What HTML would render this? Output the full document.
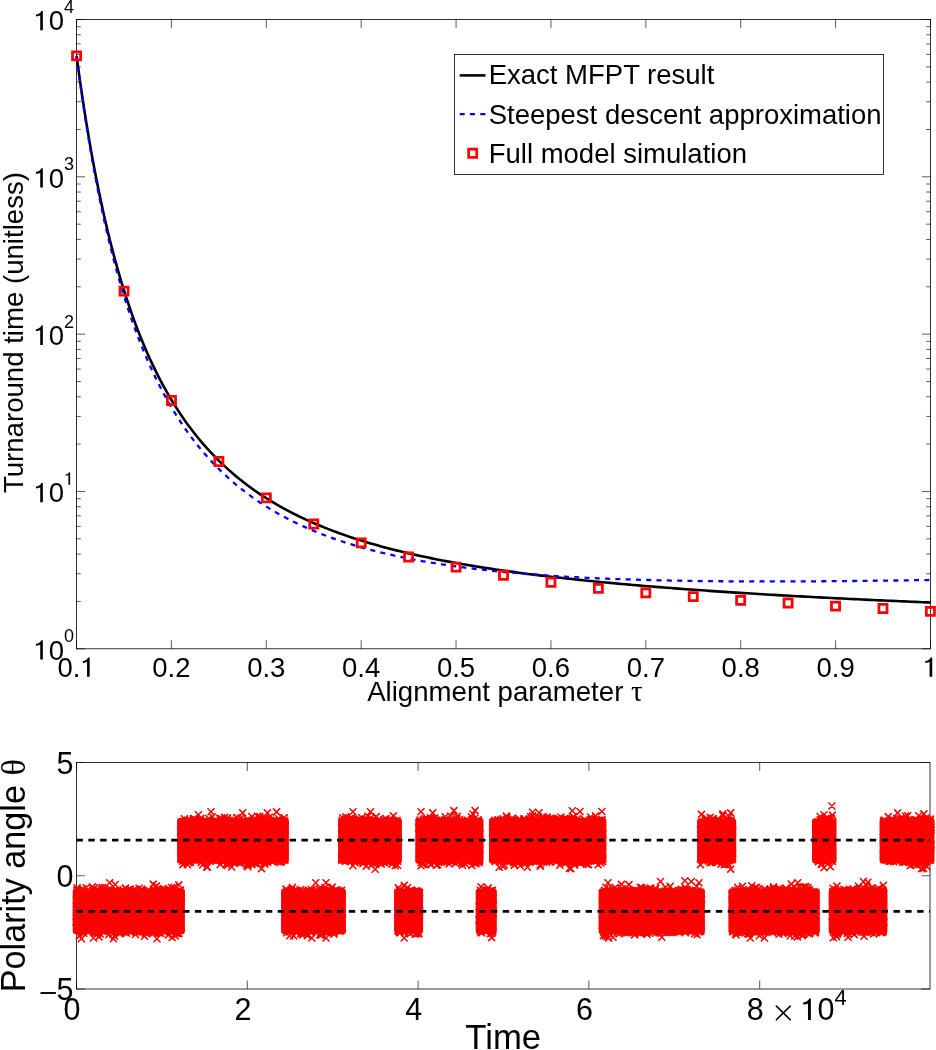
<!DOCTYPE html>
<html><head><meta charset="utf-8"><title>MFPT plot</title>
<style>html,body{margin:0;padding:0;background:#fff;overflow:hidden}svg{display:block;will-change:transform}</style>
</head><body>
<svg width="936" height="1050" viewBox="0 0 936 1050" font-family="Liberation Sans, sans-serif">
<rect width="936" height="1050" fill="#fff"/>
<path d="M76.50 648.8V640.30M76.50 19.5V28.00M171.39 648.8V640.30M171.39 19.5V28.00M266.28 648.8V640.30M266.28 19.5V28.00M361.17 648.8V640.30M361.17 19.5V28.00M456.06 648.8V640.30M456.06 19.5V28.00M550.94 648.8V640.30M550.94 19.5V28.00M645.83 648.8V640.30M645.83 19.5V28.00M740.72 648.8V640.30M740.72 19.5V28.00M835.61 648.8V640.30M835.61 19.5V28.00M930.50 648.8V640.30M930.50 19.5V28.00M76.5 648.80H85.00M930.5 648.80H922.00M76.5 601.44H80.80M930.5 601.44H926.20M76.5 573.74H80.80M930.5 573.74H926.20M76.5 554.08H80.80M930.5 554.08H926.20M76.5 538.83H80.80M930.5 538.83H926.20M76.5 526.38H80.80M930.5 526.38H926.20M76.5 515.84H80.80M930.5 515.84H926.20M76.5 506.72H80.80M930.5 506.72H926.20M76.5 498.67H80.80M930.5 498.67H926.20M76.5 491.47H85.00M930.5 491.47H922.00M76.5 444.12H80.80M930.5 444.12H926.20M76.5 416.41H80.80M930.5 416.41H926.20M76.5 396.76H80.80M930.5 396.76H926.20M76.5 381.51H80.80M930.5 381.51H926.20M76.5 369.05H80.80M930.5 369.05H926.20M76.5 358.52H80.80M930.5 358.52H926.20M76.5 349.40H80.80M930.5 349.40H926.20M76.5 341.35H80.80M930.5 341.35H926.20M76.5 334.15H85.00M930.5 334.15H922.00M76.5 286.79H80.80M930.5 286.79H926.20M76.5 259.09H80.80M930.5 259.09H926.20M76.5 239.43H80.80M930.5 239.43H926.20M76.5 224.18H80.80M930.5 224.18H926.20M76.5 211.73H80.80M930.5 211.73H926.20M76.5 201.19H80.80M930.5 201.19H926.20M76.5 192.07H80.80M930.5 192.07H926.20M76.5 184.02H80.80M930.5 184.02H926.20M76.5 176.82H85.00M930.5 176.82H922.00M76.5 129.47H80.80M930.5 129.47H926.20M76.5 101.76H80.80M930.5 101.76H926.20M76.5 82.11H80.80M930.5 82.11H926.20M76.5 66.86H80.80M930.5 66.86H926.20M76.5 54.40H80.80M930.5 54.40H926.20M76.5 43.87H80.80M930.5 43.87H926.20M76.5 34.75H80.80M930.5 34.75H926.20M76.5 26.70H80.80M930.5 26.70H926.20M76.5 19.50H85.00M930.5 19.50H922.00" stroke="#000" stroke-width="0.65" fill="none"/>
<rect x="76.5" y="19.5" width="854.00" height="629.30" fill="none" stroke="#000" stroke-width="0.8"/>
<g font-size="27.5" fill="#000"><text x="57.39" y="676.80" font-size="27.5">0.</text><path d="M0.245 0H0.34V-0.705H0.285C0.26 -0.64 0.2 -0.585 0.089 -0.574V-0.505C0.15 -0.508 0.21 -0.52 0.245 -0.545Z" transform="translate(80.32 676.80) scale(27.5)"/><text x="152.28" y="676.80" font-size="27.5">0.2</text><text x="247.17" y="676.80" font-size="27.5">0.3</text><text x="342.05" y="676.80" font-size="27.5">0.4</text><text x="436.94" y="676.80" font-size="27.5">0.5</text><text x="531.83" y="676.80" font-size="27.5">0.6</text><text x="626.72" y="676.80" font-size="27.5">0.7</text><text x="721.61" y="676.80" font-size="27.5">0.8</text><text x="816.50" y="676.80" font-size="27.5">0.9</text><path d="M0.245 0H0.34V-0.705H0.285C0.26 -0.64 0.2 -0.585 0.089 -0.574V-0.505C0.15 -0.508 0.21 -0.52 0.245 -0.545Z" transform="translate(922.86 676.80) scale(27.5)"/><path d="M0.245 0H0.34V-0.705H0.285C0.26 -0.64 0.2 -0.585 0.089 -0.574V-0.505C0.15 -0.508 0.21 -0.52 0.245 -0.545Z" transform="translate(33.50 659.60) scale(27.5)"/><text x="48.79" y="659.60" font-size="27.5">0</text><text x="64.00" y="642.20" font-size="18">0</text><path d="M0.245 0H0.34V-0.705H0.285C0.26 -0.64 0.2 -0.585 0.089 -0.574V-0.505C0.15 -0.508 0.21 -0.52 0.245 -0.545Z" transform="translate(33.50 502.27) scale(27.5)"/><text x="48.79" y="502.27" font-size="27.5">0</text><path d="M0.245 0H0.34V-0.705H0.285C0.26 -0.64 0.2 -0.585 0.089 -0.574V-0.505C0.15 -0.508 0.21 -0.52 0.245 -0.545Z" transform="translate(64.00 484.87) scale(18)"/><path d="M0.245 0H0.34V-0.705H0.285C0.26 -0.64 0.2 -0.585 0.089 -0.574V-0.505C0.15 -0.508 0.21 -0.52 0.245 -0.545Z" transform="translate(33.50 344.95) scale(27.5)"/><text x="48.79" y="344.95" font-size="27.5">0</text><text x="64.00" y="327.55" font-size="18">2</text><path d="M0.245 0H0.34V-0.705H0.285C0.26 -0.64 0.2 -0.585 0.089 -0.574V-0.505C0.15 -0.508 0.21 -0.52 0.245 -0.545Z" transform="translate(33.50 187.62) scale(27.5)"/><text x="48.79" y="187.62" font-size="27.5">0</text><text x="64.00" y="170.22" font-size="18">3</text><path d="M0.245 0H0.34V-0.705H0.285C0.26 -0.64 0.2 -0.585 0.089 -0.574V-0.505C0.15 -0.508 0.21 -0.52 0.245 -0.545Z" transform="translate(33.50 30.30) scale(27.5)"/><text x="48.79" y="30.30" font-size="27.5">0</text><text x="64.00" y="12.90" font-size="18">4</text></g>
<text x="367.2" y="701.3" font-size="27.6">Alignment parameter <tspan font-family="Liberation Serif" font-size="29">τ</tspan></text>
<text transform="translate(22.7 332.6) rotate(-90)" font-size="27.6" text-anchor="middle">Turnaround time (unitless)</text>
<path d="M76.60 55.96 L77.20 60.46 L77.79 64.90 L78.39 69.28 L78.99 73.61 L79.58 77.88 L80.18 82.10 L80.78 86.26 L81.37 90.37 L81.97 94.44 L82.57 98.45 L83.16 102.41 L83.76 106.32 L84.36 110.18 L84.95 114.00 L85.55 117.77 L86.15 121.50 L86.74 125.18 L87.34 128.82 L87.94 132.41 L88.53 135.96 L89.13 139.47 L89.73 142.94 L90.32 146.37 L90.92 149.76 L91.52 153.11 L92.11 156.42 L92.71 159.69 L93.31 162.93 L93.90 166.13 L94.50 169.29 L95.10 172.42 L95.69 175.51 L96.29 178.57 L96.89 181.60 L97.48 184.59 L98.08 187.55 L98.68 190.47 L99.27 193.37 L99.87 196.23 L100.47 199.06 L101.06 201.86 L101.66 204.63 L102.26 207.38 L102.85 210.09 L103.45 212.77 L104.05 215.43 L104.64 218.06 L105.24 220.66 L105.84 223.23 L106.43 225.78 L107.03 228.30 L107.63 230.79 L108.22 233.26 L108.82 235.70 L109.42 238.12 L110.01 240.52 L110.61 242.89 L111.21 245.24 L111.80 247.56 L112.40 249.86 L113.00 252.14 L113.59 254.39 L114.19 256.62 L114.79 258.83 L115.38 261.02 L115.98 263.19 L116.58 265.34 L117.17 267.46 L117.77 269.57 L118.37 271.66 L118.96 273.72 L119.56 275.77 L120.16 277.79 L120.75 279.80 L121.35 281.79 L121.95 283.76 L122.54 285.71 L123.14 287.64 L123.74 289.56 L124.33 291.46 L124.93 293.34 L125.52 295.20 L126.12 297.05 L126.72 298.88 L127.31 300.69 L127.91 302.48 L128.51 304.26 L129.10 306.03 L129.70 307.78 L130.30 309.51 L130.89 311.22 L131.49 312.93 L132.09 314.61 L132.68 316.28 L133.28 317.94 L133.88 319.58 L134.47 321.21 L135.07 322.83 L135.67 324.43 L136.26 326.01 L136.86 327.59 L137.46 329.15 L138.05 330.69 L138.65 332.22 L139.25 333.74 L139.84 335.25 L140.44 336.74 L141.04 338.23 L141.63 339.70 L142.23 341.15 L142.83 342.60 L143.42 344.03 L144.02 345.45 L144.62 346.86 L145.21 348.26 L145.81 349.64 L146.41 351.02 L147.00 352.38 L147.60 353.73 L148.20 355.07 L148.79 356.40 L149.39 357.72 L149.99 359.03 L150.58 360.33 L151.18 361.62 L151.78 362.90 L152.37 364.17 L152.97 365.42 L153.57 366.67 L154.16 367.91 L154.76 369.14 L155.36 370.36 L155.95 371.57 L156.55 372.77 L157.15 373.96 L157.74 375.14 L158.34 376.31 L158.94 377.47 L159.53 378.63 L160.13 379.77 L160.73 380.91 L161.32 382.04 L161.92 383.16 L162.52 384.27 L163.11 385.37 L163.71 386.47 L164.31 387.55 L164.90 388.63 L165.50 389.70 L166.10 390.76 L166.69 391.82 L167.29 392.86 L167.89 393.90 L168.48 394.93 L169.08 395.96 L169.68 396.97 L170.27 397.98 L170.87 398.98 L171.47 399.98 L175.28 406.16 L179.09 412.07 L182.91 417.72 L186.72 423.13 L190.54 428.31 L194.35 433.26 L198.16 438.02 L201.98 442.58 L205.79 446.96 L209.60 451.16 L213.42 455.21 L217.23 459.09 L221.05 462.83 L224.86 466.43 L228.67 469.90 L232.49 473.24 L236.30 476.46 L240.11 479.57 L243.93 482.56 L247.74 485.46 L251.56 488.25 L255.37 490.95 L259.18 493.57 L263.00 496.09 L266.81 498.53 L270.62 500.90 L274.44 503.19 L278.25 505.40 L282.06 507.55 L285.88 509.64 L289.69 511.66 L293.51 513.62 L297.32 515.52 L301.13 517.36 L304.95 519.15 L308.76 520.89 L312.57 522.58 L316.39 524.23 L320.20 525.82 L324.02 527.38 L327.83 528.89 L331.64 530.36 L335.46 531.79 L339.27 533.19 L343.08 534.54 L346.90 535.86 L350.71 537.15 L354.53 538.41 L358.34 539.63 L362.15 540.83 L365.97 541.99 L369.78 543.13 L373.59 544.24 L377.41 545.32 L381.22 546.38 L385.04 547.41 L388.85 548.42 L392.66 549.40 L396.48 550.37 L400.29 551.31 L404.10 552.23 L407.92 553.13 L411.73 554.01 L415.55 554.87 L419.36 555.71 L423.17 556.54 L426.99 557.35 L430.80 558.14 L434.61 558.91 L438.43 559.67 L442.24 560.42 L446.06 561.15 L449.87 561.86 L453.68 562.56 L457.50 563.25 L461.31 563.92 L465.12 564.58 L468.94 565.23 L472.75 565.87 L476.57 566.49 L480.38 567.11 L484.19 567.71 L488.01 568.30 L491.82 568.88 L495.63 569.45 L499.45 570.01 L503.26 570.56 L507.08 571.10 L510.89 571.64 L514.70 572.16 L518.52 572.67 L522.33 573.18 L526.14 573.68 L529.96 574.17 L533.77 574.65 L537.59 575.12 L541.40 575.59 L545.21 576.05 L549.03 576.50 L552.84 576.95 L556.65 577.38 L560.47 577.82 L564.28 578.24 L568.10 578.66 L571.91 579.07 L575.72 579.48 L579.54 579.88 L583.35 580.28 L587.16 580.67 L590.98 581.05 L594.79 581.43 L598.61 581.81 L602.42 582.18 L606.23 582.54 L610.05 582.90 L613.86 583.25 L617.67 583.60 L621.49 583.95 L625.30 584.29 L629.11 584.63 L632.93 584.96 L636.74 585.29 L640.56 585.61 L644.37 585.93 L648.18 586.25 L652.00 586.56 L655.81 586.87 L659.62 587.17 L663.44 587.47 L667.25 587.77 L671.07 588.06 L674.88 588.35 L678.69 588.64 L682.51 588.93 L686.32 589.21 L690.13 589.49 L693.95 589.76 L697.76 590.03 L701.58 590.30 L705.39 590.57 L709.20 590.83 L713.02 591.09 L716.83 591.35 L720.64 591.60 L724.46 591.85 L728.27 592.10 L732.09 592.35 L735.90 592.60 L739.71 592.84 L743.53 593.08 L747.34 593.32 L751.15 593.55 L754.97 593.78 L758.78 594.01 L762.60 594.24 L766.41 594.47 L770.22 594.69 L774.04 594.91 L777.85 595.13 L781.66 595.35 L785.48 595.57 L789.29 595.78 L793.11 595.99 L796.92 596.20 L800.73 596.41 L804.55 596.61 L808.36 596.82 L812.17 597.02 L815.99 597.22 L819.80 597.42 L823.62 597.62 L827.43 597.81 L831.24 598.00 L835.06 598.20 L838.87 598.39 L842.68 598.57 L846.50 598.76 L850.31 598.95 L854.13 599.13 L857.94 599.31 L861.75 599.49 L865.57 599.67 L869.38 599.85 L873.19 600.02 L877.01 600.20 L880.82 600.37 L884.64 600.54 L888.45 600.71 L892.26 600.88 L896.08 601.05 L899.89 601.22 L903.70 601.38 L907.52 601.55 L911.33 601.71 L915.15 601.87 L918.96 602.03 L922.77 602.19 L926.59 602.34 L930.40 602.50" stroke="#000" stroke-width="2.6" fill="none" stroke-linejoin="round"/>
<path d="M76.60 55.99 L77.20 60.62 L77.79 65.19 L78.39 69.70 L78.99 74.15 L79.58 78.54 L80.18 82.87 L80.78 87.15 L81.37 91.38 L81.97 95.55 L82.57 99.66 L83.16 103.73 L83.76 107.74 L84.36 111.71 L84.95 115.63 L85.55 119.49 L86.15 123.31 L86.74 127.09 L87.34 130.82 L87.94 134.50 L88.53 138.14 L89.13 141.73 L89.73 145.29 L90.32 148.80 L90.92 152.27 L91.52 155.69 L92.11 159.08 L92.71 162.43 L93.31 165.74 L93.90 169.02 L94.50 172.25 L95.10 175.45 L95.69 178.61 L96.29 181.74 L96.89 184.83 L97.48 187.89 L98.08 190.91 L98.68 193.90 L99.27 196.86 L99.87 199.79 L100.47 202.68 L101.06 205.54 L101.66 208.37 L102.26 211.17 L102.85 213.94 L103.45 216.68 L104.05 219.39 L104.64 222.08 L105.24 224.73 L105.84 227.36 L106.43 229.96 L107.03 232.53 L107.63 235.07 L108.22 237.59 L108.82 240.09 L109.42 242.56 L110.01 245.00 L110.61 247.42 L111.21 249.81 L111.80 252.18 L112.40 254.53 L113.00 256.85 L113.59 259.15 L114.19 261.42 L114.79 263.68 L115.38 265.91 L115.98 268.12 L116.58 270.31 L117.17 272.48 L117.77 274.62 L118.37 276.75 L118.96 278.85 L119.56 280.94 L120.16 283.00 L120.75 285.05 L121.35 287.08 L121.95 289.08 L122.54 291.07 L123.14 293.04 L123.74 294.99 L124.33 296.93 L124.93 298.84 L125.52 300.74 L126.12 302.62 L126.72 304.48 L127.31 306.33 L127.91 308.16 L128.51 309.97 L129.10 311.77 L129.70 313.55 L130.30 315.32 L130.89 317.06 L131.49 318.80 L132.09 320.52 L132.68 322.22 L133.28 323.91 L133.88 325.58 L134.47 327.24 L135.07 328.88 L135.67 330.51 L136.26 332.13 L136.86 333.73 L137.46 335.31 L138.05 336.89 L138.65 338.45 L139.25 340.00 L139.84 341.53 L140.44 343.05 L141.04 344.56 L141.63 346.06 L142.23 347.54 L142.83 349.01 L143.42 350.47 L144.02 351.92 L144.62 353.35 L145.21 354.77 L145.81 356.18 L146.41 357.58 L147.00 358.97 L147.60 360.35 L148.20 361.71 L148.79 363.07 L149.39 364.41 L149.99 365.74 L150.58 367.06 L151.18 368.37 L151.78 369.68 L152.37 370.97 L152.97 372.25 L153.57 373.52 L154.16 374.78 L154.76 376.03 L155.36 377.27 L155.95 378.50 L156.55 379.72 L157.15 380.93 L157.74 382.13 L158.34 383.32 L158.94 384.51 L159.53 385.68 L160.13 386.85 L160.73 388.00 L161.32 389.15 L161.92 390.29 L162.52 391.42 L163.11 392.54 L163.71 393.66 L164.31 394.76 L164.90 395.86 L165.50 396.94 L166.10 398.03 L166.69 399.10 L167.29 400.16 L167.89 401.22 L168.48 402.27 L169.08 403.31 L169.68 404.34 L170.27 405.37 L170.87 406.38 L171.47 407.39 L175.28 413.68 L179.09 419.69 L182.91 425.43 L186.72 430.92 L190.54 436.17 L194.35 441.20 L198.16 446.03 L201.98 450.65 L205.79 455.08 L209.60 459.34 L213.42 463.43 L217.23 467.35 L221.05 471.13 L224.86 474.76 L228.67 478.25 L232.49 481.61 L236.30 484.85 L240.11 487.97 L243.93 490.97 L247.74 493.87 L251.56 496.66 L255.37 499.36 L259.18 501.96 L263.00 504.47 L266.81 506.90 L270.62 509.24 L274.44 511.50 L278.25 513.69 L282.06 515.80 L285.88 517.85 L289.69 519.83 L293.51 521.74 L297.32 523.59 L301.13 525.39 L304.95 527.12 L308.76 528.80 L312.57 530.43 L316.39 532.01 L320.20 533.53 L324.02 535.02 L327.83 536.45 L331.64 537.84 L335.46 539.19 L339.27 540.50 L343.08 541.77 L346.90 543.00 L350.71 544.19 L354.53 545.35 L358.34 546.47 L362.15 547.57 L365.97 548.62 L369.78 549.65 L373.59 550.65 L377.41 551.62 L381.22 552.56 L385.04 553.47 L388.85 554.36 L392.66 555.22 L396.48 556.06 L400.29 556.87 L404.10 557.66 L407.92 558.43 L411.73 559.17 L415.55 559.90 L419.36 560.60 L423.17 561.29 L426.99 561.95 L430.80 562.59 L434.61 563.22 L438.43 563.83 L442.24 564.42 L446.06 565.00 L449.87 565.56 L453.68 566.10 L457.50 566.63 L461.31 567.14 L465.12 567.64 L468.94 568.12 L472.75 568.59 L476.57 569.05 L480.38 569.49 L484.19 569.93 L488.01 570.34 L491.82 570.75 L495.63 571.15 L499.45 571.53 L503.26 571.90 L507.08 572.26 L510.89 572.62 L514.70 572.96 L518.52 573.29 L522.33 573.61 L526.14 573.92 L529.96 574.22 L533.77 574.52 L537.59 574.80 L541.40 575.08 L545.21 575.34 L549.03 575.60 L552.84 575.85 L556.65 576.10 L560.47 576.33 L564.28 576.56 L568.10 576.78 L571.91 577.00 L575.72 577.20 L579.54 577.40 L583.35 577.60 L587.16 577.78 L590.98 577.97 L594.79 578.14 L598.61 578.31 L602.42 578.47 L606.23 578.63 L610.05 578.78 L613.86 578.93 L617.67 579.07 L621.49 579.20 L625.30 579.34 L629.11 579.46 L632.93 579.58 L636.74 579.70 L640.56 579.81 L644.37 579.92 L648.18 580.02 L652.00 580.12 L655.81 580.21 L659.62 580.30 L663.44 580.38 L667.25 580.47 L671.07 580.54 L674.88 580.62 L678.69 580.69 L682.51 580.75 L686.32 580.82 L690.13 580.88 L693.95 580.93 L697.76 580.98 L701.58 581.03 L705.39 581.08 L709.20 581.12 L713.02 581.16 L716.83 581.20 L720.64 581.23 L724.46 581.26 L728.27 581.29 L732.09 581.32 L735.90 581.34 L739.71 581.36 L743.53 581.38 L747.34 581.39 L751.15 581.41 L754.97 581.42 L758.78 581.42 L762.60 581.43 L766.41 581.43 L770.22 581.43 L774.04 581.43 L777.85 581.43 L781.66 581.42 L785.48 581.42 L789.29 581.41 L793.11 581.40 L796.92 581.38 L800.73 581.37 L804.55 581.35 L808.36 581.33 L812.17 581.31 L815.99 581.29 L819.80 581.26 L823.62 581.24 L827.43 581.21 L831.24 581.18 L835.06 581.15 L838.87 581.12 L842.68 581.09 L846.50 581.05 L850.31 581.02 L854.13 580.98 L857.94 580.94 L861.75 580.90 L865.57 580.86 L869.38 580.81 L873.19 580.77 L877.01 580.72 L880.82 580.68 L884.64 580.63 L888.45 580.58 L892.26 580.53 L896.08 580.48 L899.89 580.43 L903.70 580.37 L907.52 580.32 L911.33 580.26 L915.15 580.21 L918.96 580.15 L922.77 580.09 L926.59 580.03 L930.40 579.97" stroke="#0000ff" stroke-width="2.3" fill="none" stroke-dasharray="5.0 5.3"/>
<path d="M72.55 51.85h8.1v8.1h-8.1zM119.98 287.05h8.1v8.1h-8.1zM167.42 396.45h8.1v8.1h-8.1zM214.85 457.45h8.1v8.1h-8.1zM262.28 493.85h8.1v8.1h-8.1zM309.72 519.95h8.1v8.1h-8.1zM357.15 538.75h8.1v8.1h-8.1zM404.58 552.95h8.1v8.1h-8.1zM452.02 563.05h8.1v8.1h-8.1zM499.45 571.15h8.1v8.1h-8.1zM546.88 578.15h8.1v8.1h-8.1zM594.32 584.25h8.1v8.1h-8.1zM641.75 588.75h8.1v8.1h-8.1zM689.18 592.55h8.1v8.1h-8.1zM736.62 596.35h8.1v8.1h-8.1zM784.05 598.95h8.1v8.1h-8.1zM831.48 602.05h8.1v8.1h-8.1zM878.92 604.45h8.1v8.1h-8.1zM926.35 607.25h8.1v8.1h-8.1z" stroke="#ff0000" stroke-width="2.75" fill="none"/>
<rect x="454.5" y="54.5" width="429.0" height="120.0" fill="#fff" stroke="#000" stroke-width="0.8"/>
<path d="M459.7 75.39999999999999H485.5" stroke="#000" stroke-width="2.6"/>
<path d="M459.7 114.1H485.5" stroke="#0000ff" stroke-width="2.3" stroke-dasharray="5.0 5.3"/>
<path d="M468.65 149.15h8.1v8.1h-8.1z" stroke="#ff0000" stroke-width="2.75" fill="none"/>
<g font-size="27.5">
<text x="488.7" y="84.4">Exact MFPT result</text>
<text x="488.7" y="123.7">Steepest descent approximation</text>
<text x="488.7" y="162.8">Full model simulation</text>
</g>
<path d="M76.50 989.0V980.50M76.50 762.5V771.00M247.30 989.0V980.50M247.30 762.5V771.00M418.10 989.0V980.50M418.10 762.5V771.00M588.90 989.0V980.50M588.90 762.5V771.00M759.70 989.0V980.50M759.70 762.5V771.00M76.5 989.00H85.00M930.0 989.00H921.50M76.5 875.75H85.00M930.0 875.75H921.50M76.5 762.50H85.00M930.0 762.50H921.50" stroke="#000" stroke-width="0.65" fill="none"/>
<rect x="76.5" y="762.5" width="853.50" height="226.50" fill="none" stroke="#000" stroke-width="0.8"/>
<g><rect x="72.70" y="888.20" width="112.20" height="46.00" rx="3" fill="#ff0000"/><rect x="177.10" y="817.80" width="111.80" height="46.00" rx="3" fill="#ff0000"/><rect x="281.10" y="888.20" width="64.80" height="46.00" rx="3" fill="#ff0000"/><rect x="338.10" y="817.80" width="63.80" height="46.00" rx="3" fill="#ff0000"/><rect x="394.10" y="888.60" width="29.00" height="45.20" rx="3" fill="#ff0000"/><rect x="415.30" y="817.80" width="68.20" height="46.00" rx="3" fill="#ff0000"/><rect x="475.70" y="888.60" width="21.10" height="45.20" rx="3" fill="#ff0000"/><rect x="489.00" y="817.80" width="117.40" height="46.00" rx="3" fill="#ff0000"/><rect x="598.60" y="888.20" width="106.30" height="46.00" rx="3" fill="#ff0000"/><rect x="697.10" y="818.20" width="39.10" height="45.20" rx="3" fill="#ff0000"/><rect x="728.40" y="888.20" width="91.40" height="46.00" rx="3" fill="#ff0000"/><rect x="812.00" y="818.20" width="24.50" height="45.20" rx="3" fill="#ff0000"/><rect x="828.70" y="888.20" width="58.70" height="46.00" rx="3" fill="#ff0000"/><rect x="879.60" y="817.80" width="54.90" height="46.00" rx="3" fill="#ff0000"/></g>
<path d="M138.4 887.4l7.0 7.0m0 -7.0l-7.0 7.0M166.8 886.5l7.0 7.0m0 -7.0l-7.0 7.0M154.1 885.3l7.0 7.0m0 -7.0l-7.0 7.0M96.6 884.3l7.0 7.0m0 -7.0l-7.0 7.0M104.4 886.7l7.0 7.0m0 -7.0l-7.0 7.0M164.3 885.9l7.0 7.0m0 -7.0l-7.0 7.0M73.6 886.6l7.0 7.0m0 -7.0l-7.0 7.0M158.8 886.4l7.0 7.0m0 -7.0l-7.0 7.0M156.3 887.3l7.0 7.0m0 -7.0l-7.0 7.0M122.0 884.5l7.0 7.0m0 -7.0l-7.0 7.0M104.7 886.4l7.0 7.0m0 -7.0l-7.0 7.0M102.2 886.4l7.0 7.0m0 -7.0l-7.0 7.0M99.7 887.5l7.0 7.0m0 -7.0l-7.0 7.0M119.6 886.2l7.0 7.0m0 -7.0l-7.0 7.0M125.8 886.2l7.0 7.0m0 -7.0l-7.0 7.0M130.9 886.2l7.0 7.0m0 -7.0l-7.0 7.0M177.0 886.8l7.0 7.0m0 -7.0l-7.0 7.0M155.9 885.9l7.0 7.0m0 -7.0l-7.0 7.0M138.1 885.6l7.0 7.0m0 -7.0l-7.0 7.0M176.3 886.7l7.0 7.0m0 -7.0l-7.0 7.0M95.6 887.1l7.0 7.0m0 -7.0l-7.0 7.0M89.8 885.5l7.0 7.0m0 -7.0l-7.0 7.0M137.0 886.7l7.0 7.0m0 -7.0l-7.0 7.0M77.7 886.6l7.0 7.0m0 -7.0l-7.0 7.0M76.8 887.4l7.0 7.0m0 -7.0l-7.0 7.0M126.9 887.2l7.0 7.0m0 -7.0l-7.0 7.0M121.8 885.0l7.0 7.0m0 -7.0l-7.0 7.0M168.9 886.6l7.0 7.0m0 -7.0l-7.0 7.0M138.8 887.5l7.0 7.0m0 -7.0l-7.0 7.0M126.8 885.9l7.0 7.0m0 -7.0l-7.0 7.0M125.0 886.9l7.0 7.0m0 -7.0l-7.0 7.0M98.9 884.0l7.0 7.0m0 -7.0l-7.0 7.0M74.3 886.5l7.0 7.0m0 -7.0l-7.0 7.0M93.2 886.3l7.0 7.0m0 -7.0l-7.0 7.0M145.3 887.0l7.0 7.0m0 -7.0l-7.0 7.0M94.0 887.5l7.0 7.0m0 -7.0l-7.0 7.0M111.7 881.0l7.0 7.0m0 -7.0l-7.0 7.0M73.5 886.9l7.0 7.0m0 -7.0l-7.0 7.0M159.8 885.0l7.0 7.0m0 -7.0l-7.0 7.0M89.2 887.3l7.0 7.0m0 -7.0l-7.0 7.0M101.0 884.2l7.0 7.0m0 -7.0l-7.0 7.0M165.0 887.5l7.0 7.0m0 -7.0l-7.0 7.0M126.3 886.5l7.0 7.0m0 -7.0l-7.0 7.0M161.5 887.4l7.0 7.0m0 -7.0l-7.0 7.0M139.9 887.3l7.0 7.0m0 -7.0l-7.0 7.0M150.5 885.6l7.0 7.0m0 -7.0l-7.0 7.0M82.7 884.3l7.0 7.0m0 -7.0l-7.0 7.0M129.6 886.7l7.0 7.0m0 -7.0l-7.0 7.0M126.1 885.8l7.0 7.0m0 -7.0l-7.0 7.0M164.1 886.2l7.0 7.0m0 -7.0l-7.0 7.0M110.8 886.9l7.0 7.0m0 -7.0l-7.0 7.0M135.6 884.8l7.0 7.0m0 -7.0l-7.0 7.0M79.3 885.3l7.0 7.0m0 -7.0l-7.0 7.0M113.6 887.1l7.0 7.0m0 -7.0l-7.0 7.0M106.8 886.6l7.0 7.0m0 -7.0l-7.0 7.0M153.0 882.5l7.0 7.0m0 -7.0l-7.0 7.0M168.0 884.0l7.0 7.0m0 -7.0l-7.0 7.0M88.9 883.4l7.0 7.0m0 -7.0l-7.0 7.0M170.5 883.8l7.0 7.0m0 -7.0l-7.0 7.0M73.6 884.4l7.0 7.0m0 -7.0l-7.0 7.0M151.7 883.2l7.0 7.0m0 -7.0l-7.0 7.0M155.9 929.4l7.0 7.0m0 -7.0l-7.0 7.0M126.7 928.6l7.0 7.0m0 -7.0l-7.0 7.0M148.9 928.2l7.0 7.0m0 -7.0l-7.0 7.0M96.7 930.5l7.0 7.0m0 -7.0l-7.0 7.0M93.8 929.5l7.0 7.0m0 -7.0l-7.0 7.0M111.0 932.6l7.0 7.0m0 -7.0l-7.0 7.0M91.8 928.5l7.0 7.0m0 -7.0l-7.0 7.0M109.2 930.5l7.0 7.0m0 -7.0l-7.0 7.0M172.1 928.0l7.0 7.0m0 -7.0l-7.0 7.0M133.0 928.0l7.0 7.0m0 -7.0l-7.0 7.0M108.6 927.9l7.0 7.0m0 -7.0l-7.0 7.0M101.4 928.0l7.0 7.0m0 -7.0l-7.0 7.0M172.5 928.4l7.0 7.0m0 -7.0l-7.0 7.0M119.5 928.0l7.0 7.0m0 -7.0l-7.0 7.0M175.5 929.8l7.0 7.0m0 -7.0l-7.0 7.0M126.9 927.9l7.0 7.0m0 -7.0l-7.0 7.0M127.5 928.5l7.0 7.0m0 -7.0l-7.0 7.0M166.7 928.2l7.0 7.0m0 -7.0l-7.0 7.0M150.6 928.9l7.0 7.0m0 -7.0l-7.0 7.0M133.7 927.9l7.0 7.0m0 -7.0l-7.0 7.0M117.6 928.6l7.0 7.0m0 -7.0l-7.0 7.0M164.8 931.4l7.0 7.0m0 -7.0l-7.0 7.0M116.1 929.2l7.0 7.0m0 -7.0l-7.0 7.0M169.4 928.3l7.0 7.0m0 -7.0l-7.0 7.0M80.3 929.8l7.0 7.0m0 -7.0l-7.0 7.0M118.0 928.7l7.0 7.0m0 -7.0l-7.0 7.0M127.3 928.1l7.0 7.0m0 -7.0l-7.0 7.0M172.4 930.0l7.0 7.0m0 -7.0l-7.0 7.0M99.3 928.0l7.0 7.0m0 -7.0l-7.0 7.0M157.3 929.8l7.0 7.0m0 -7.0l-7.0 7.0M143.7 930.3l7.0 7.0m0 -7.0l-7.0 7.0M148.0 929.1l7.0 7.0m0 -7.0l-7.0 7.0M138.8 928.3l7.0 7.0m0 -7.0l-7.0 7.0M174.5 930.3l7.0 7.0m0 -7.0l-7.0 7.0M107.8 928.0l7.0 7.0m0 -7.0l-7.0 7.0M114.7 928.4l7.0 7.0m0 -7.0l-7.0 7.0M94.3 929.5l7.0 7.0m0 -7.0l-7.0 7.0M78.4 929.1l7.0 7.0m0 -7.0l-7.0 7.0M95.3 928.9l7.0 7.0m0 -7.0l-7.0 7.0M168.7 934.0l7.0 7.0m0 -7.0l-7.0 7.0M160.8 928.8l7.0 7.0m0 -7.0l-7.0 7.0M84.8 928.2l7.0 7.0m0 -7.0l-7.0 7.0M136.1 928.7l7.0 7.0m0 -7.0l-7.0 7.0M123.1 929.7l7.0 7.0m0 -7.0l-7.0 7.0M135.2 928.1l7.0 7.0m0 -7.0l-7.0 7.0M141.9 929.7l7.0 7.0m0 -7.0l-7.0 7.0M105.1 931.3l7.0 7.0m0 -7.0l-7.0 7.0M173.5 928.9l7.0 7.0m0 -7.0l-7.0 7.0M121.7 928.0l7.0 7.0m0 -7.0l-7.0 7.0M138.7 928.2l7.0 7.0m0 -7.0l-7.0 7.0M139.4 928.4l7.0 7.0m0 -7.0l-7.0 7.0M92.3 928.8l7.0 7.0m0 -7.0l-7.0 7.0M79.6 928.5l7.0 7.0m0 -7.0l-7.0 7.0M116.1 930.2l7.0 7.0m0 -7.0l-7.0 7.0M152.9 929.1l7.0 7.0m0 -7.0l-7.0 7.0M90.0 934.5l7.0 7.0m0 -7.0l-7.0 7.0M75.9 932.4l7.0 7.0m0 -7.0l-7.0 7.0M141.0 932.8l7.0 7.0m0 -7.0l-7.0 7.0M95.5 933.4l7.0 7.0m0 -7.0l-7.0 7.0M132.0 931.0l7.0 7.0m0 -7.0l-7.0 7.0M171.7 932.4l7.0 7.0m0 -7.0l-7.0 7.0M72.7 914.5l7.0 7.0m0 -7.0l-7.0 7.0M73.4 902.5l7.0 7.0m0 -7.0l-7.0 7.0M73.0 909.4l7.0 7.0m0 -7.0l-7.0 7.0M72.8 897.1l7.0 7.0m0 -7.0l-7.0 7.0M72.9 905.9l7.0 7.0m0 -7.0l-7.0 7.0M72.7 918.3l7.0 7.0m0 -7.0l-7.0 7.0M73.2 899.3l7.0 7.0m0 -7.0l-7.0 7.0M72.7 918.8l7.0 7.0m0 -7.0l-7.0 7.0M177.1 892.3l7.0 7.0m0 -7.0l-7.0 7.0M177.1 890.1l7.0 7.0m0 -7.0l-7.0 7.0M177.9 898.0l7.0 7.0m0 -7.0l-7.0 7.0M177.3 921.7l7.0 7.0m0 -7.0l-7.0 7.0M177.6 894.6l7.0 7.0m0 -7.0l-7.0 7.0M177.4 923.8l7.0 7.0m0 -7.0l-7.0 7.0M177.4 916.6l7.0 7.0m0 -7.0l-7.0 7.0M177.1 917.2l7.0 7.0m0 -7.0l-7.0 7.0M258.3 816.5l7.0 7.0m0 -7.0l-7.0 7.0M263.4 815.1l7.0 7.0m0 -7.0l-7.0 7.0M247.6 817.0l7.0 7.0m0 -7.0l-7.0 7.0M216.1 814.9l7.0 7.0m0 -7.0l-7.0 7.0M184.2 816.8l7.0 7.0m0 -7.0l-7.0 7.0M231.5 816.7l7.0 7.0m0 -7.0l-7.0 7.0M256.3 817.1l7.0 7.0m0 -7.0l-7.0 7.0M197.3 814.8l7.0 7.0m0 -7.0l-7.0 7.0M205.2 815.0l7.0 7.0m0 -7.0l-7.0 7.0M233.3 814.4l7.0 7.0m0 -7.0l-7.0 7.0M255.3 816.7l7.0 7.0m0 -7.0l-7.0 7.0M270.7 816.9l7.0 7.0m0 -7.0l-7.0 7.0M190.6 815.0l7.0 7.0m0 -7.0l-7.0 7.0M196.7 816.5l7.0 7.0m0 -7.0l-7.0 7.0M260.7 815.1l7.0 7.0m0 -7.0l-7.0 7.0M244.5 816.5l7.0 7.0m0 -7.0l-7.0 7.0M252.5 816.5l7.0 7.0m0 -7.0l-7.0 7.0M281.2 817.1l7.0 7.0m0 -7.0l-7.0 7.0M275.2 815.2l7.0 7.0m0 -7.0l-7.0 7.0M265.2 816.6l7.0 7.0m0 -7.0l-7.0 7.0M258.3 817.0l7.0 7.0m0 -7.0l-7.0 7.0M218.6 815.7l7.0 7.0m0 -7.0l-7.0 7.0M244.2 816.3l7.0 7.0m0 -7.0l-7.0 7.0M196.7 816.6l7.0 7.0m0 -7.0l-7.0 7.0M256.5 814.9l7.0 7.0m0 -7.0l-7.0 7.0M256.3 816.6l7.0 7.0m0 -7.0l-7.0 7.0M252.5 816.0l7.0 7.0m0 -7.0l-7.0 7.0M223.8 816.7l7.0 7.0m0 -7.0l-7.0 7.0M216.8 815.5l7.0 7.0m0 -7.0l-7.0 7.0M221.2 813.9l7.0 7.0m0 -7.0l-7.0 7.0M181.0 815.3l7.0 7.0m0 -7.0l-7.0 7.0M265.3 816.5l7.0 7.0m0 -7.0l-7.0 7.0M233.9 814.2l7.0 7.0m0 -7.0l-7.0 7.0M217.8 815.9l7.0 7.0m0 -7.0l-7.0 7.0M234.5 816.9l7.0 7.0m0 -7.0l-7.0 7.0M252.6 816.8l7.0 7.0m0 -7.0l-7.0 7.0M217.2 816.9l7.0 7.0m0 -7.0l-7.0 7.0M263.9 815.1l7.0 7.0m0 -7.0l-7.0 7.0M273.1 808.4l7.0 7.0m0 -7.0l-7.0 7.0M217.8 815.0l7.0 7.0m0 -7.0l-7.0 7.0M191.8 817.0l7.0 7.0m0 -7.0l-7.0 7.0M256.6 816.1l7.0 7.0m0 -7.0l-7.0 7.0M280.8 814.3l7.0 7.0m0 -7.0l-7.0 7.0M192.9 816.3l7.0 7.0m0 -7.0l-7.0 7.0M251.6 817.1l7.0 7.0m0 -7.0l-7.0 7.0M263.3 816.7l7.0 7.0m0 -7.0l-7.0 7.0M273.2 816.7l7.0 7.0m0 -7.0l-7.0 7.0M190.3 816.9l7.0 7.0m0 -7.0l-7.0 7.0M187.0 816.7l7.0 7.0m0 -7.0l-7.0 7.0M280.2 814.6l7.0 7.0m0 -7.0l-7.0 7.0M189.6 815.6l7.0 7.0m0 -7.0l-7.0 7.0M195.9 816.3l7.0 7.0m0 -7.0l-7.0 7.0M237.3 814.6l7.0 7.0m0 -7.0l-7.0 7.0M223.9 814.4l7.0 7.0m0 -7.0l-7.0 7.0M255.5 816.4l7.0 7.0m0 -7.0l-7.0 7.0M265.9 813.8l7.0 7.0m0 -7.0l-7.0 7.0M248.4 813.1l7.0 7.0m0 -7.0l-7.0 7.0M254.0 812.7l7.0 7.0m0 -7.0l-7.0 7.0M208.9 813.2l7.0 7.0m0 -7.0l-7.0 7.0M194.9 811.3l7.0 7.0m0 -7.0l-7.0 7.0M256.2 813.1l7.0 7.0m0 -7.0l-7.0 7.0M231.0 859.0l7.0 7.0m0 -7.0l-7.0 7.0M187.0 858.5l7.0 7.0m0 -7.0l-7.0 7.0M277.9 858.3l7.0 7.0m0 -7.0l-7.0 7.0M237.3 859.8l7.0 7.0m0 -7.0l-7.0 7.0M261.1 857.8l7.0 7.0m0 -7.0l-7.0 7.0M206.8 857.6l7.0 7.0m0 -7.0l-7.0 7.0M260.9 858.9l7.0 7.0m0 -7.0l-7.0 7.0M250.6 858.5l7.0 7.0m0 -7.0l-7.0 7.0M244.4 863.2l7.0 7.0m0 -7.0l-7.0 7.0M276.4 858.7l7.0 7.0m0 -7.0l-7.0 7.0M222.6 860.2l7.0 7.0m0 -7.0l-7.0 7.0M220.7 858.3l7.0 7.0m0 -7.0l-7.0 7.0M249.5 857.6l7.0 7.0m0 -7.0l-7.0 7.0M264.3 858.8l7.0 7.0m0 -7.0l-7.0 7.0M212.3 857.8l7.0 7.0m0 -7.0l-7.0 7.0M247.1 858.1l7.0 7.0m0 -7.0l-7.0 7.0M199.2 861.4l7.0 7.0m0 -7.0l-7.0 7.0M234.9 858.2l7.0 7.0m0 -7.0l-7.0 7.0M257.5 858.2l7.0 7.0m0 -7.0l-7.0 7.0M184.3 858.2l7.0 7.0m0 -7.0l-7.0 7.0M253.2 860.4l7.0 7.0m0 -7.0l-7.0 7.0M179.1 857.7l7.0 7.0m0 -7.0l-7.0 7.0M277.2 858.2l7.0 7.0m0 -7.0l-7.0 7.0M226.2 857.8l7.0 7.0m0 -7.0l-7.0 7.0M220.0 858.0l7.0 7.0m0 -7.0l-7.0 7.0M252.4 858.9l7.0 7.0m0 -7.0l-7.0 7.0M231.9 858.2l7.0 7.0m0 -7.0l-7.0 7.0M253.5 860.0l7.0 7.0m0 -7.0l-7.0 7.0M186.3 859.0l7.0 7.0m0 -7.0l-7.0 7.0M236.0 858.0l7.0 7.0m0 -7.0l-7.0 7.0M235.5 858.2l7.0 7.0m0 -7.0l-7.0 7.0M274.4 858.1l7.0 7.0m0 -7.0l-7.0 7.0M181.6 858.5l7.0 7.0m0 -7.0l-7.0 7.0M224.6 859.4l7.0 7.0m0 -7.0l-7.0 7.0M243.1 862.0l7.0 7.0m0 -7.0l-7.0 7.0M234.8 857.7l7.0 7.0m0 -7.0l-7.0 7.0M185.2 859.2l7.0 7.0m0 -7.0l-7.0 7.0M239.2 857.8l7.0 7.0m0 -7.0l-7.0 7.0M200.6 859.8l7.0 7.0m0 -7.0l-7.0 7.0M197.8 858.9l7.0 7.0m0 -7.0l-7.0 7.0M268.9 858.1l7.0 7.0m0 -7.0l-7.0 7.0M198.1 858.6l7.0 7.0m0 -7.0l-7.0 7.0M224.7 859.9l7.0 7.0m0 -7.0l-7.0 7.0M255.5 858.0l7.0 7.0m0 -7.0l-7.0 7.0M251.1 859.9l7.0 7.0m0 -7.0l-7.0 7.0M235.1 858.6l7.0 7.0m0 -7.0l-7.0 7.0M261.4 860.6l7.0 7.0m0 -7.0l-7.0 7.0M225.9 859.5l7.0 7.0m0 -7.0l-7.0 7.0M242.0 858.7l7.0 7.0m0 -7.0l-7.0 7.0M262.7 858.3l7.0 7.0m0 -7.0l-7.0 7.0M248.0 859.5l7.0 7.0m0 -7.0l-7.0 7.0M244.3 859.7l7.0 7.0m0 -7.0l-7.0 7.0M219.7 857.7l7.0 7.0m0 -7.0l-7.0 7.0M235.6 859.5l7.0 7.0m0 -7.0l-7.0 7.0M218.7 858.0l7.0 7.0m0 -7.0l-7.0 7.0M223.8 861.9l7.0 7.0m0 -7.0l-7.0 7.0M184.0 861.2l7.0 7.0m0 -7.0l-7.0 7.0M248.5 861.1l7.0 7.0m0 -7.0l-7.0 7.0M203.1 863.4l7.0 7.0m0 -7.0l-7.0 7.0M244.4 861.2l7.0 7.0m0 -7.0l-7.0 7.0M216.7 861.0l7.0 7.0m0 -7.0l-7.0 7.0M178.0 828.4l7.0 7.0m0 -7.0l-7.0 7.0M177.3 827.1l7.0 7.0m0 -7.0l-7.0 7.0M177.1 834.1l7.0 7.0m0 -7.0l-7.0 7.0M177.8 846.1l7.0 7.0m0 -7.0l-7.0 7.0M177.2 822.1l7.0 7.0m0 -7.0l-7.0 7.0M177.3 848.6l7.0 7.0m0 -7.0l-7.0 7.0M177.5 855.1l7.0 7.0m0 -7.0l-7.0 7.0M177.7 842.4l7.0 7.0m0 -7.0l-7.0 7.0M281.8 847.8l7.0 7.0m0 -7.0l-7.0 7.0M281.3 827.1l7.0 7.0m0 -7.0l-7.0 7.0M281.4 836.8l7.0 7.0m0 -7.0l-7.0 7.0M281.1 834.8l7.0 7.0m0 -7.0l-7.0 7.0M281.6 822.0l7.0 7.0m0 -7.0l-7.0 7.0M281.1 823.6l7.0 7.0m0 -7.0l-7.0 7.0M281.3 856.7l7.0 7.0m0 -7.0l-7.0 7.0M281.0 824.0l7.0 7.0m0 -7.0l-7.0 7.0M290.9 887.0l7.0 7.0m0 -7.0l-7.0 7.0M308.5 887.1l7.0 7.0m0 -7.0l-7.0 7.0M282.4 885.6l7.0 7.0m0 -7.0l-7.0 7.0M307.6 886.0l7.0 7.0m0 -7.0l-7.0 7.0M290.8 887.0l7.0 7.0m0 -7.0l-7.0 7.0M296.9 886.1l7.0 7.0m0 -7.0l-7.0 7.0M326.7 887.4l7.0 7.0m0 -7.0l-7.0 7.0M292.0 886.8l7.0 7.0m0 -7.0l-7.0 7.0M316.7 886.9l7.0 7.0m0 -7.0l-7.0 7.0M304.7 886.6l7.0 7.0m0 -7.0l-7.0 7.0M305.3 887.1l7.0 7.0m0 -7.0l-7.0 7.0M328.1 887.4l7.0 7.0m0 -7.0l-7.0 7.0M290.7 887.3l7.0 7.0m0 -7.0l-7.0 7.0M334.2 887.3l7.0 7.0m0 -7.0l-7.0 7.0M332.4 886.4l7.0 7.0m0 -7.0l-7.0 7.0M319.6 887.3l7.0 7.0m0 -7.0l-7.0 7.0M284.3 887.3l7.0 7.0m0 -7.0l-7.0 7.0M319.3 886.2l7.0 7.0m0 -7.0l-7.0 7.0M315.7 885.4l7.0 7.0m0 -7.0l-7.0 7.0M325.5 885.9l7.0 7.0m0 -7.0l-7.0 7.0M293.7 887.2l7.0 7.0m0 -7.0l-7.0 7.0M335.8 887.5l7.0 7.0m0 -7.0l-7.0 7.0M332.0 886.5l7.0 7.0m0 -7.0l-7.0 7.0M288.0 886.1l7.0 7.0m0 -7.0l-7.0 7.0M299.5 887.2l7.0 7.0m0 -7.0l-7.0 7.0M283.3 886.1l7.0 7.0m0 -7.0l-7.0 7.0M328.9 883.5l7.0 7.0m0 -7.0l-7.0 7.0M333.7 886.8l7.0 7.0m0 -7.0l-7.0 7.0M337.9 886.7l7.0 7.0m0 -7.0l-7.0 7.0M316.4 886.2l7.0 7.0m0 -7.0l-7.0 7.0M319.5 886.4l7.0 7.0m0 -7.0l-7.0 7.0M321.5 884.1l7.0 7.0m0 -7.0l-7.0 7.0M288.9 883.9l7.0 7.0m0 -7.0l-7.0 7.0M328.0 884.4l7.0 7.0m0 -7.0l-7.0 7.0M312.9 928.7l7.0 7.0m0 -7.0l-7.0 7.0M329.8 928.3l7.0 7.0m0 -7.0l-7.0 7.0M286.3 928.3l7.0 7.0m0 -7.0l-7.0 7.0M297.1 930.2l7.0 7.0m0 -7.0l-7.0 7.0M325.1 928.3l7.0 7.0m0 -7.0l-7.0 7.0M316.2 931.2l7.0 7.0m0 -7.0l-7.0 7.0M299.3 931.4l7.0 7.0m0 -7.0l-7.0 7.0M317.3 928.9l7.0 7.0m0 -7.0l-7.0 7.0M307.4 928.4l7.0 7.0m0 -7.0l-7.0 7.0M330.7 928.6l7.0 7.0m0 -7.0l-7.0 7.0M298.2 928.2l7.0 7.0m0 -7.0l-7.0 7.0M324.7 928.4l7.0 7.0m0 -7.0l-7.0 7.0M317.7 931.6l7.0 7.0m0 -7.0l-7.0 7.0M323.7 928.5l7.0 7.0m0 -7.0l-7.0 7.0M303.1 929.3l7.0 7.0m0 -7.0l-7.0 7.0M322.8 928.2l7.0 7.0m0 -7.0l-7.0 7.0M321.3 928.7l7.0 7.0m0 -7.0l-7.0 7.0M303.6 930.0l7.0 7.0m0 -7.0l-7.0 7.0M283.0 929.2l7.0 7.0m0 -7.0l-7.0 7.0M336.4 927.9l7.0 7.0m0 -7.0l-7.0 7.0M322.2 928.6l7.0 7.0m0 -7.0l-7.0 7.0M293.2 928.4l7.0 7.0m0 -7.0l-7.0 7.0M323.2 929.2l7.0 7.0m0 -7.0l-7.0 7.0M297.4 928.3l7.0 7.0m0 -7.0l-7.0 7.0M308.2 928.8l7.0 7.0m0 -7.0l-7.0 7.0M330.5 930.6l7.0 7.0m0 -7.0l-7.0 7.0M307.0 928.7l7.0 7.0m0 -7.0l-7.0 7.0M297.9 928.4l7.0 7.0m0 -7.0l-7.0 7.0M298.9 930.8l7.0 7.0m0 -7.0l-7.0 7.0M285.9 928.6l7.0 7.0m0 -7.0l-7.0 7.0M294.0 928.2l7.0 7.0m0 -7.0l-7.0 7.0M303.9 932.1l7.0 7.0m0 -7.0l-7.0 7.0M290.2 932.4l7.0 7.0m0 -7.0l-7.0 7.0M286.2 932.3l7.0 7.0m0 -7.0l-7.0 7.0M281.6 900.3l7.0 7.0m0 -7.0l-7.0 7.0M281.6 918.3l7.0 7.0m0 -7.0l-7.0 7.0M281.6 920.4l7.0 7.0m0 -7.0l-7.0 7.0M281.6 895.0l7.0 7.0m0 -7.0l-7.0 7.0M281.6 907.3l7.0 7.0m0 -7.0l-7.0 7.0M281.2 912.7l7.0 7.0m0 -7.0l-7.0 7.0M281.8 892.4l7.0 7.0m0 -7.0l-7.0 7.0M281.5 917.5l7.0 7.0m0 -7.0l-7.0 7.0M338.4 898.0l7.0 7.0m0 -7.0l-7.0 7.0M338.4 909.5l7.0 7.0m0 -7.0l-7.0 7.0M338.7 910.2l7.0 7.0m0 -7.0l-7.0 7.0M338.1 921.1l7.0 7.0m0 -7.0l-7.0 7.0M338.9 891.0l7.0 7.0m0 -7.0l-7.0 7.0M338.2 894.0l7.0 7.0m0 -7.0l-7.0 7.0M338.8 924.9l7.0 7.0m0 -7.0l-7.0 7.0M338.0 900.7l7.0 7.0m0 -7.0l-7.0 7.0M349.3 816.8l7.0 7.0m0 -7.0l-7.0 7.0M364.8 816.7l7.0 7.0m0 -7.0l-7.0 7.0M390.1 817.0l7.0 7.0m0 -7.0l-7.0 7.0M342.4 815.8l7.0 7.0m0 -7.0l-7.0 7.0M348.1 816.4l7.0 7.0m0 -7.0l-7.0 7.0M365.8 816.9l7.0 7.0m0 -7.0l-7.0 7.0M367.8 816.8l7.0 7.0m0 -7.0l-7.0 7.0M380.2 816.6l7.0 7.0m0 -7.0l-7.0 7.0M363.0 816.4l7.0 7.0m0 -7.0l-7.0 7.0M346.4 816.4l7.0 7.0m0 -7.0l-7.0 7.0M358.3 814.2l7.0 7.0m0 -7.0l-7.0 7.0M393.5 816.9l7.0 7.0m0 -7.0l-7.0 7.0M380.5 816.0l7.0 7.0m0 -7.0l-7.0 7.0M345.0 816.3l7.0 7.0m0 -7.0l-7.0 7.0M383.8 816.7l7.0 7.0m0 -7.0l-7.0 7.0M355.9 815.6l7.0 7.0m0 -7.0l-7.0 7.0M382.3 815.1l7.0 7.0m0 -7.0l-7.0 7.0M339.2 814.2l7.0 7.0m0 -7.0l-7.0 7.0M387.3 816.7l7.0 7.0m0 -7.0l-7.0 7.0M347.6 814.6l7.0 7.0m0 -7.0l-7.0 7.0M364.0 816.6l7.0 7.0m0 -7.0l-7.0 7.0M375.6 817.0l7.0 7.0m0 -7.0l-7.0 7.0M366.9 814.8l7.0 7.0m0 -7.0l-7.0 7.0M347.8 815.2l7.0 7.0m0 -7.0l-7.0 7.0M346.3 816.8l7.0 7.0m0 -7.0l-7.0 7.0M354.4 816.1l7.0 7.0m0 -7.0l-7.0 7.0M341.4 817.0l7.0 7.0m0 -7.0l-7.0 7.0M350.6 816.4l7.0 7.0m0 -7.0l-7.0 7.0M345.8 815.6l7.0 7.0m0 -7.0l-7.0 7.0M364.5 812.7l7.0 7.0m0 -7.0l-7.0 7.0M358.5 817.1l7.0 7.0m0 -7.0l-7.0 7.0M389.9 812.4l7.0 7.0m0 -7.0l-7.0 7.0M372.8 813.1l7.0 7.0m0 -7.0l-7.0 7.0M342.3 813.4l7.0 7.0m0 -7.0l-7.0 7.0M379.8 858.8l7.0 7.0m0 -7.0l-7.0 7.0M376.5 859.4l7.0 7.0m0 -7.0l-7.0 7.0M394.3 857.8l7.0 7.0m0 -7.0l-7.0 7.0M347.3 858.0l7.0 7.0m0 -7.0l-7.0 7.0M384.0 857.7l7.0 7.0m0 -7.0l-7.0 7.0M361.5 857.9l7.0 7.0m0 -7.0l-7.0 7.0M382.4 857.6l7.0 7.0m0 -7.0l-7.0 7.0M388.4 860.6l7.0 7.0m0 -7.0l-7.0 7.0M394.1 861.8l7.0 7.0m0 -7.0l-7.0 7.0M353.4 858.1l7.0 7.0m0 -7.0l-7.0 7.0M363.9 858.8l7.0 7.0m0 -7.0l-7.0 7.0M391.3 857.6l7.0 7.0m0 -7.0l-7.0 7.0M391.5 858.5l7.0 7.0m0 -7.0l-7.0 7.0M359.4 860.3l7.0 7.0m0 -7.0l-7.0 7.0M391.2 857.7l7.0 7.0m0 -7.0l-7.0 7.0M361.2 857.6l7.0 7.0m0 -7.0l-7.0 7.0M359.5 858.4l7.0 7.0m0 -7.0l-7.0 7.0M380.9 859.1l7.0 7.0m0 -7.0l-7.0 7.0M364.9 857.7l7.0 7.0m0 -7.0l-7.0 7.0M363.6 858.1l7.0 7.0m0 -7.0l-7.0 7.0M360.1 857.6l7.0 7.0m0 -7.0l-7.0 7.0M362.7 862.6l7.0 7.0m0 -7.0l-7.0 7.0M346.3 857.7l7.0 7.0m0 -7.0l-7.0 7.0M341.9 857.9l7.0 7.0m0 -7.0l-7.0 7.0M380.7 857.7l7.0 7.0m0 -7.0l-7.0 7.0M370.1 860.1l7.0 7.0m0 -7.0l-7.0 7.0M376.1 858.3l7.0 7.0m0 -7.0l-7.0 7.0M383.4 858.2l7.0 7.0m0 -7.0l-7.0 7.0M351.4 859.3l7.0 7.0m0 -7.0l-7.0 7.0M351.6 859.0l7.0 7.0m0 -7.0l-7.0 7.0M354.1 857.6l7.0 7.0m0 -7.0l-7.0 7.0M367.7 861.5l7.0 7.0m0 -7.0l-7.0 7.0M372.2 860.7l7.0 7.0m0 -7.0l-7.0 7.0M377.8 860.6l7.0 7.0m0 -7.0l-7.0 7.0M338.0 839.4l7.0 7.0m0 -7.0l-7.0 7.0M338.1 824.8l7.0 7.0m0 -7.0l-7.0 7.0M338.3 819.3l7.0 7.0m0 -7.0l-7.0 7.0M338.0 855.2l7.0 7.0m0 -7.0l-7.0 7.0M338.4 824.9l7.0 7.0m0 -7.0l-7.0 7.0M338.7 816.7l7.0 7.0m0 -7.0l-7.0 7.0M338.2 856.7l7.0 7.0m0 -7.0l-7.0 7.0M338.9 843.0l7.0 7.0m0 -7.0l-7.0 7.0M394.1 829.7l7.0 7.0m0 -7.0l-7.0 7.0M394.0 825.5l7.0 7.0m0 -7.0l-7.0 7.0M394.0 821.6l7.0 7.0m0 -7.0l-7.0 7.0M394.6 820.5l7.0 7.0m0 -7.0l-7.0 7.0M394.2 854.2l7.0 7.0m0 -7.0l-7.0 7.0M394.3 830.3l7.0 7.0m0 -7.0l-7.0 7.0M394.1 849.7l7.0 7.0m0 -7.0l-7.0 7.0M394.7 839.3l7.0 7.0m0 -7.0l-7.0 7.0M407.6 887.1l7.0 7.0m0 -7.0l-7.0 7.0M396.6 885.8l7.0 7.0m0 -7.0l-7.0 7.0M400.0 887.8l7.0 7.0m0 -7.0l-7.0 7.0M406.9 887.3l7.0 7.0m0 -7.0l-7.0 7.0M414.7 887.9l7.0 7.0m0 -7.0l-7.0 7.0M411.8 887.2l7.0 7.0m0 -7.0l-7.0 7.0M408.1 886.6l7.0 7.0m0 -7.0l-7.0 7.0M405.5 887.5l7.0 7.0m0 -7.0l-7.0 7.0M394.8 884.4l7.0 7.0m0 -7.0l-7.0 7.0M413.4 887.6l7.0 7.0m0 -7.0l-7.0 7.0M395.9 887.2l7.0 7.0m0 -7.0l-7.0 7.0M397.2 886.6l7.0 7.0m0 -7.0l-7.0 7.0M409.2 887.9l7.0 7.0m0 -7.0l-7.0 7.0M403.9 884.0l7.0 7.0m0 -7.0l-7.0 7.0M409.6 928.7l7.0 7.0m0 -7.0l-7.0 7.0M405.2 927.8l7.0 7.0m0 -7.0l-7.0 7.0M412.9 929.3l7.0 7.0m0 -7.0l-7.0 7.0M413.5 930.0l7.0 7.0m0 -7.0l-7.0 7.0M401.2 929.1l7.0 7.0m0 -7.0l-7.0 7.0M400.4 927.9l7.0 7.0m0 -7.0l-7.0 7.0M414.4 927.6l7.0 7.0m0 -7.0l-7.0 7.0M405.2 928.5l7.0 7.0m0 -7.0l-7.0 7.0M396.5 929.4l7.0 7.0m0 -7.0l-7.0 7.0M395.5 928.1l7.0 7.0m0 -7.0l-7.0 7.0M415.5 930.1l7.0 7.0m0 -7.0l-7.0 7.0M406.8 930.2l7.0 7.0m0 -7.0l-7.0 7.0M395.7 927.9l7.0 7.0m0 -7.0l-7.0 7.0M411.8 930.6l7.0 7.0m0 -7.0l-7.0 7.0M394.7 895.1l7.0 7.0m0 -7.0l-7.0 7.0M394.5 927.3l7.0 7.0m0 -7.0l-7.0 7.0M394.5 889.4l7.0 7.0m0 -7.0l-7.0 7.0M394.4 914.3l7.0 7.0m0 -7.0l-7.0 7.0M394.1 897.5l7.0 7.0m0 -7.0l-7.0 7.0M394.0 909.4l7.0 7.0m0 -7.0l-7.0 7.0M394.4 907.9l7.0 7.0m0 -7.0l-7.0 7.0M394.3 914.2l7.0 7.0m0 -7.0l-7.0 7.0M415.4 924.5l7.0 7.0m0 -7.0l-7.0 7.0M416.2 907.4l7.0 7.0m0 -7.0l-7.0 7.0M415.7 922.5l7.0 7.0m0 -7.0l-7.0 7.0M415.5 920.2l7.0 7.0m0 -7.0l-7.0 7.0M415.5 916.8l7.0 7.0m0 -7.0l-7.0 7.0M415.5 911.9l7.0 7.0m0 -7.0l-7.0 7.0M416.1 889.3l7.0 7.0m0 -7.0l-7.0 7.0M416.0 909.4l7.0 7.0m0 -7.0l-7.0 7.0M438.6 816.7l7.0 7.0m0 -7.0l-7.0 7.0M436.9 816.9l7.0 7.0m0 -7.0l-7.0 7.0M419.9 816.1l7.0 7.0m0 -7.0l-7.0 7.0M431.3 814.5l7.0 7.0m0 -7.0l-7.0 7.0M453.3 815.9l7.0 7.0m0 -7.0l-7.0 7.0M421.6 815.1l7.0 7.0m0 -7.0l-7.0 7.0M456.1 816.1l7.0 7.0m0 -7.0l-7.0 7.0M473.8 816.8l7.0 7.0m0 -7.0l-7.0 7.0M474.9 816.6l7.0 7.0m0 -7.0l-7.0 7.0M469.4 810.5l7.0 7.0m0 -7.0l-7.0 7.0M464.4 816.8l7.0 7.0m0 -7.0l-7.0 7.0M426.4 816.0l7.0 7.0m0 -7.0l-7.0 7.0M474.3 816.5l7.0 7.0m0 -7.0l-7.0 7.0M427.9 815.4l7.0 7.0m0 -7.0l-7.0 7.0M468.2 816.4l7.0 7.0m0 -7.0l-7.0 7.0M468.7 816.8l7.0 7.0m0 -7.0l-7.0 7.0M453.3 815.2l7.0 7.0m0 -7.0l-7.0 7.0M447.2 817.0l7.0 7.0m0 -7.0l-7.0 7.0M427.8 815.4l7.0 7.0m0 -7.0l-7.0 7.0M447.1 812.6l7.0 7.0m0 -7.0l-7.0 7.0M433.3 817.1l7.0 7.0m0 -7.0l-7.0 7.0M423.3 816.6l7.0 7.0m0 -7.0l-7.0 7.0M423.4 816.9l7.0 7.0m0 -7.0l-7.0 7.0M464.1 816.9l7.0 7.0m0 -7.0l-7.0 7.0M471.4 814.7l7.0 7.0m0 -7.0l-7.0 7.0M424.3 815.9l7.0 7.0m0 -7.0l-7.0 7.0M416.5 816.5l7.0 7.0m0 -7.0l-7.0 7.0M431.6 817.0l7.0 7.0m0 -7.0l-7.0 7.0M423.8 815.6l7.0 7.0m0 -7.0l-7.0 7.0M427.1 814.2l7.0 7.0m0 -7.0l-7.0 7.0M450.9 816.5l7.0 7.0m0 -7.0l-7.0 7.0M441.2 816.5l7.0 7.0m0 -7.0l-7.0 7.0M441.6 816.2l7.0 7.0m0 -7.0l-7.0 7.0M453.7 812.9l7.0 7.0m0 -7.0l-7.0 7.0M441.6 813.2l7.0 7.0m0 -7.0l-7.0 7.0M467.9 813.3l7.0 7.0m0 -7.0l-7.0 7.0M449.7 858.0l7.0 7.0m0 -7.0l-7.0 7.0M462.0 860.5l7.0 7.0m0 -7.0l-7.0 7.0M459.9 858.9l7.0 7.0m0 -7.0l-7.0 7.0M431.2 858.1l7.0 7.0m0 -7.0l-7.0 7.0M475.6 859.2l7.0 7.0m0 -7.0l-7.0 7.0M459.2 857.5l7.0 7.0m0 -7.0l-7.0 7.0M441.3 858.6l7.0 7.0m0 -7.0l-7.0 7.0M440.8 858.1l7.0 7.0m0 -7.0l-7.0 7.0M462.8 857.6l7.0 7.0m0 -7.0l-7.0 7.0M426.3 858.2l7.0 7.0m0 -7.0l-7.0 7.0M454.3 858.1l7.0 7.0m0 -7.0l-7.0 7.0M459.1 858.3l7.0 7.0m0 -7.0l-7.0 7.0M446.9 857.6l7.0 7.0m0 -7.0l-7.0 7.0M468.4 862.0l7.0 7.0m0 -7.0l-7.0 7.0M444.0 857.5l7.0 7.0m0 -7.0l-7.0 7.0M443.8 857.9l7.0 7.0m0 -7.0l-7.0 7.0M432.9 861.7l7.0 7.0m0 -7.0l-7.0 7.0M471.2 857.9l7.0 7.0m0 -7.0l-7.0 7.0M434.8 857.7l7.0 7.0m0 -7.0l-7.0 7.0M457.7 859.5l7.0 7.0m0 -7.0l-7.0 7.0M440.4 858.4l7.0 7.0m0 -7.0l-7.0 7.0M472.2 860.5l7.0 7.0m0 -7.0l-7.0 7.0M473.0 859.0l7.0 7.0m0 -7.0l-7.0 7.0M417.5 859.2l7.0 7.0m0 -7.0l-7.0 7.0M475.8 857.7l7.0 7.0m0 -7.0l-7.0 7.0M452.2 860.0l7.0 7.0m0 -7.0l-7.0 7.0M420.2 859.9l7.0 7.0m0 -7.0l-7.0 7.0M445.7 860.5l7.0 7.0m0 -7.0l-7.0 7.0M418.7 858.6l7.0 7.0m0 -7.0l-7.0 7.0M448.9 857.7l7.0 7.0m0 -7.0l-7.0 7.0M426.9 861.0l7.0 7.0m0 -7.0l-7.0 7.0M437.9 858.7l7.0 7.0m0 -7.0l-7.0 7.0M434.1 861.3l7.0 7.0m0 -7.0l-7.0 7.0M419.2 861.0l7.0 7.0m0 -7.0l-7.0 7.0M458.9 861.7l7.0 7.0m0 -7.0l-7.0 7.0M427.6 861.3l7.0 7.0m0 -7.0l-7.0 7.0M415.8 855.4l7.0 7.0m0 -7.0l-7.0 7.0M415.2 824.4l7.0 7.0m0 -7.0l-7.0 7.0M415.6 850.7l7.0 7.0m0 -7.0l-7.0 7.0M415.7 837.8l7.0 7.0m0 -7.0l-7.0 7.0M416.0 843.8l7.0 7.0m0 -7.0l-7.0 7.0M415.5 820.0l7.0 7.0m0 -7.0l-7.0 7.0M415.7 853.3l7.0 7.0m0 -7.0l-7.0 7.0M415.8 818.5l7.0 7.0m0 -7.0l-7.0 7.0M476.0 832.5l7.0 7.0m0 -7.0l-7.0 7.0M476.2 841.0l7.0 7.0m0 -7.0l-7.0 7.0M476.6 830.5l7.0 7.0m0 -7.0l-7.0 7.0M476.0 842.1l7.0 7.0m0 -7.0l-7.0 7.0M476.5 846.0l7.0 7.0m0 -7.0l-7.0 7.0M476.1 850.5l7.0 7.0m0 -7.0l-7.0 7.0M476.1 856.8l7.0 7.0m0 -7.0l-7.0 7.0M475.9 821.7l7.0 7.0m0 -7.0l-7.0 7.0M487.1 887.3l7.0 7.0m0 -7.0l-7.0 7.0M480.1 885.8l7.0 7.0m0 -7.0l-7.0 7.0M487.4 887.5l7.0 7.0m0 -7.0l-7.0 7.0M484.2 886.8l7.0 7.0m0 -7.0l-7.0 7.0M482.9 886.7l7.0 7.0m0 -7.0l-7.0 7.0M477.3 887.5l7.0 7.0m0 -7.0l-7.0 7.0M486.6 887.4l7.0 7.0m0 -7.0l-7.0 7.0M477.0 886.8l7.0 7.0m0 -7.0l-7.0 7.0M488.9 886.9l7.0 7.0m0 -7.0l-7.0 7.0M484.6 884.4l7.0 7.0m0 -7.0l-7.0 7.0M486.8 930.2l7.0 7.0m0 -7.0l-7.0 7.0M478.2 929.4l7.0 7.0m0 -7.0l-7.0 7.0M482.4 927.8l7.0 7.0m0 -7.0l-7.0 7.0M482.6 928.2l7.0 7.0m0 -7.0l-7.0 7.0M489.3 927.7l7.0 7.0m0 -7.0l-7.0 7.0M477.3 928.7l7.0 7.0m0 -7.0l-7.0 7.0M482.9 927.6l7.0 7.0m0 -7.0l-7.0 7.0M488.3 929.8l7.0 7.0m0 -7.0l-7.0 7.0M481.4 927.7l7.0 7.0m0 -7.0l-7.0 7.0M488.1 934.1l7.0 7.0m0 -7.0l-7.0 7.0M476.5 897.7l7.0 7.0m0 -7.0l-7.0 7.0M475.6 903.1l7.0 7.0m0 -7.0l-7.0 7.0M476.6 918.6l7.0 7.0m0 -7.0l-7.0 7.0M475.7 916.0l7.0 7.0m0 -7.0l-7.0 7.0M476.5 927.0l7.0 7.0m0 -7.0l-7.0 7.0M476.3 922.7l7.0 7.0m0 -7.0l-7.0 7.0M476.4 901.9l7.0 7.0m0 -7.0l-7.0 7.0M475.7 917.1l7.0 7.0m0 -7.0l-7.0 7.0M489.0 902.9l7.0 7.0m0 -7.0l-7.0 7.0M489.9 910.2l7.0 7.0m0 -7.0l-7.0 7.0M489.4 926.2l7.0 7.0m0 -7.0l-7.0 7.0M489.2 928.3l7.0 7.0m0 -7.0l-7.0 7.0M489.8 902.1l7.0 7.0m0 -7.0l-7.0 7.0M489.2 892.3l7.0 7.0m0 -7.0l-7.0 7.0M489.8 894.8l7.0 7.0m0 -7.0l-7.0 7.0M488.9 923.8l7.0 7.0m0 -7.0l-7.0 7.0M555.0 816.6l7.0 7.0m0 -7.0l-7.0 7.0M563.0 815.1l7.0 7.0m0 -7.0l-7.0 7.0M569.8 813.1l7.0 7.0m0 -7.0l-7.0 7.0M494.1 816.9l7.0 7.0m0 -7.0l-7.0 7.0M499.5 815.4l7.0 7.0m0 -7.0l-7.0 7.0M544.2 815.8l7.0 7.0m0 -7.0l-7.0 7.0M494.9 816.6l7.0 7.0m0 -7.0l-7.0 7.0M544.7 816.1l7.0 7.0m0 -7.0l-7.0 7.0M570.1 816.0l7.0 7.0m0 -7.0l-7.0 7.0M561.5 816.2l7.0 7.0m0 -7.0l-7.0 7.0M557.0 816.8l7.0 7.0m0 -7.0l-7.0 7.0M494.5 816.4l7.0 7.0m0 -7.0l-7.0 7.0M515.3 817.0l7.0 7.0m0 -7.0l-7.0 7.0M587.8 816.1l7.0 7.0m0 -7.0l-7.0 7.0M502.9 816.4l7.0 7.0m0 -7.0l-7.0 7.0M547.8 815.2l7.0 7.0m0 -7.0l-7.0 7.0M494.9 816.7l7.0 7.0m0 -7.0l-7.0 7.0M592.3 816.1l7.0 7.0m0 -7.0l-7.0 7.0M508.2 816.8l7.0 7.0m0 -7.0l-7.0 7.0M534.3 816.8l7.0 7.0m0 -7.0l-7.0 7.0M549.3 814.9l7.0 7.0m0 -7.0l-7.0 7.0M568.2 816.3l7.0 7.0m0 -7.0l-7.0 7.0M592.1 812.4l7.0 7.0m0 -7.0l-7.0 7.0M570.1 816.9l7.0 7.0m0 -7.0l-7.0 7.0M527.5 816.4l7.0 7.0m0 -7.0l-7.0 7.0M497.7 816.2l7.0 7.0m0 -7.0l-7.0 7.0M566.9 816.1l7.0 7.0m0 -7.0l-7.0 7.0M596.0 816.8l7.0 7.0m0 -7.0l-7.0 7.0M491.3 816.8l7.0 7.0m0 -7.0l-7.0 7.0M574.3 815.0l7.0 7.0m0 -7.0l-7.0 7.0M508.7 814.7l7.0 7.0m0 -7.0l-7.0 7.0M539.8 813.2l7.0 7.0m0 -7.0l-7.0 7.0M546.7 814.7l7.0 7.0m0 -7.0l-7.0 7.0M556.7 817.0l7.0 7.0m0 -7.0l-7.0 7.0M597.9 816.6l7.0 7.0m0 -7.0l-7.0 7.0M564.7 816.5l7.0 7.0m0 -7.0l-7.0 7.0M532.4 816.9l7.0 7.0m0 -7.0l-7.0 7.0M567.8 815.7l7.0 7.0m0 -7.0l-7.0 7.0M540.6 815.3l7.0 7.0m0 -7.0l-7.0 7.0M534.7 813.3l7.0 7.0m0 -7.0l-7.0 7.0M529.5 816.2l7.0 7.0m0 -7.0l-7.0 7.0M543.5 815.5l7.0 7.0m0 -7.0l-7.0 7.0M520.2 815.4l7.0 7.0m0 -7.0l-7.0 7.0M515.9 815.5l7.0 7.0m0 -7.0l-7.0 7.0M505.7 816.7l7.0 7.0m0 -7.0l-7.0 7.0M537.6 815.0l7.0 7.0m0 -7.0l-7.0 7.0M521.5 815.9l7.0 7.0m0 -7.0l-7.0 7.0M581.1 816.4l7.0 7.0m0 -7.0l-7.0 7.0M582.3 817.1l7.0 7.0m0 -7.0l-7.0 7.0M527.1 813.2l7.0 7.0m0 -7.0l-7.0 7.0M557.3 816.1l7.0 7.0m0 -7.0l-7.0 7.0M588.3 816.5l7.0 7.0m0 -7.0l-7.0 7.0M528.8 816.9l7.0 7.0m0 -7.0l-7.0 7.0M550.2 816.3l7.0 7.0m0 -7.0l-7.0 7.0M538.0 815.0l7.0 7.0m0 -7.0l-7.0 7.0M560.7 815.1l7.0 7.0m0 -7.0l-7.0 7.0M594.6 816.7l7.0 7.0m0 -7.0l-7.0 7.0M557.4 813.5l7.0 7.0m0 -7.0l-7.0 7.0M503.3 813.7l7.0 7.0m0 -7.0l-7.0 7.0M587.1 813.5l7.0 7.0m0 -7.0l-7.0 7.0M502.8 812.5l7.0 7.0m0 -7.0l-7.0 7.0M529.1 812.4l7.0 7.0m0 -7.0l-7.0 7.0M543.6 813.6l7.0 7.0m0 -7.0l-7.0 7.0M553.0 858.5l7.0 7.0m0 -7.0l-7.0 7.0M536.8 861.3l7.0 7.0m0 -7.0l-7.0 7.0M521.0 858.0l7.0 7.0m0 -7.0l-7.0 7.0M579.5 858.8l7.0 7.0m0 -7.0l-7.0 7.0M571.2 857.7l7.0 7.0m0 -7.0l-7.0 7.0M504.1 858.2l7.0 7.0m0 -7.0l-7.0 7.0M521.4 858.6l7.0 7.0m0 -7.0l-7.0 7.0M579.2 857.8l7.0 7.0m0 -7.0l-7.0 7.0M598.2 857.8l7.0 7.0m0 -7.0l-7.0 7.0M556.4 861.6l7.0 7.0m0 -7.0l-7.0 7.0M584.9 861.1l7.0 7.0m0 -7.0l-7.0 7.0M597.3 859.5l7.0 7.0m0 -7.0l-7.0 7.0M570.6 857.8l7.0 7.0m0 -7.0l-7.0 7.0M560.1 858.3l7.0 7.0m0 -7.0l-7.0 7.0M513.6 857.9l7.0 7.0m0 -7.0l-7.0 7.0M530.0 857.6l7.0 7.0m0 -7.0l-7.0 7.0M557.7 858.4l7.0 7.0m0 -7.0l-7.0 7.0M590.9 858.0l7.0 7.0m0 -7.0l-7.0 7.0M522.5 859.6l7.0 7.0m0 -7.0l-7.0 7.0M532.7 858.1l7.0 7.0m0 -7.0l-7.0 7.0M491.8 858.1l7.0 7.0m0 -7.0l-7.0 7.0M565.8 864.8l7.0 7.0m0 -7.0l-7.0 7.0M538.0 858.0l7.0 7.0m0 -7.0l-7.0 7.0M576.8 859.8l7.0 7.0m0 -7.0l-7.0 7.0M515.0 859.7l7.0 7.0m0 -7.0l-7.0 7.0M561.7 858.9l7.0 7.0m0 -7.0l-7.0 7.0M563.2 858.3l7.0 7.0m0 -7.0l-7.0 7.0M540.3 857.7l7.0 7.0m0 -7.0l-7.0 7.0M510.1 858.1l7.0 7.0m0 -7.0l-7.0 7.0M533.6 857.6l7.0 7.0m0 -7.0l-7.0 7.0M571.1 858.0l7.0 7.0m0 -7.0l-7.0 7.0M510.1 859.1l7.0 7.0m0 -7.0l-7.0 7.0M499.3 863.0l7.0 7.0m0 -7.0l-7.0 7.0M540.1 858.6l7.0 7.0m0 -7.0l-7.0 7.0M515.1 857.8l7.0 7.0m0 -7.0l-7.0 7.0M577.1 858.3l7.0 7.0m0 -7.0l-7.0 7.0M579.0 857.5l7.0 7.0m0 -7.0l-7.0 7.0M593.0 857.5l7.0 7.0m0 -7.0l-7.0 7.0M581.4 858.7l7.0 7.0m0 -7.0l-7.0 7.0M560.4 858.0l7.0 7.0m0 -7.0l-7.0 7.0M509.9 858.0l7.0 7.0m0 -7.0l-7.0 7.0M579.6 857.7l7.0 7.0m0 -7.0l-7.0 7.0M569.2 858.7l7.0 7.0m0 -7.0l-7.0 7.0M571.3 860.4l7.0 7.0m0 -7.0l-7.0 7.0M565.8 857.5l7.0 7.0m0 -7.0l-7.0 7.0M580.4 858.7l7.0 7.0m0 -7.0l-7.0 7.0M522.0 857.6l7.0 7.0m0 -7.0l-7.0 7.0M563.1 859.3l7.0 7.0m0 -7.0l-7.0 7.0M546.1 858.4l7.0 7.0m0 -7.0l-7.0 7.0M526.4 858.6l7.0 7.0m0 -7.0l-7.0 7.0M525.2 858.3l7.0 7.0m0 -7.0l-7.0 7.0M506.4 858.5l7.0 7.0m0 -7.0l-7.0 7.0M543.3 858.9l7.0 7.0m0 -7.0l-7.0 7.0M529.8 858.0l7.0 7.0m0 -7.0l-7.0 7.0M535.6 857.6l7.0 7.0m0 -7.0l-7.0 7.0M582.7 858.6l7.0 7.0m0 -7.0l-7.0 7.0M564.1 857.7l7.0 7.0m0 -7.0l-7.0 7.0M500.6 861.6l7.0 7.0m0 -7.0l-7.0 7.0M510.8 861.6l7.0 7.0m0 -7.0l-7.0 7.0M516.6 862.2l7.0 7.0m0 -7.0l-7.0 7.0M594.6 861.2l7.0 7.0m0 -7.0l-7.0 7.0M571.0 861.7l7.0 7.0m0 -7.0l-7.0 7.0M582.9 860.8l7.0 7.0m0 -7.0l-7.0 7.0M489.7 819.5l7.0 7.0m0 -7.0l-7.0 7.0M489.2 836.4l7.0 7.0m0 -7.0l-7.0 7.0M489.6 843.4l7.0 7.0m0 -7.0l-7.0 7.0M489.6 820.7l7.0 7.0m0 -7.0l-7.0 7.0M489.1 829.3l7.0 7.0m0 -7.0l-7.0 7.0M489.2 848.0l7.0 7.0m0 -7.0l-7.0 7.0M489.9 845.0l7.0 7.0m0 -7.0l-7.0 7.0M488.9 828.8l7.0 7.0m0 -7.0l-7.0 7.0M599.3 855.1l7.0 7.0m0 -7.0l-7.0 7.0M599.1 831.0l7.0 7.0m0 -7.0l-7.0 7.0M598.9 842.9l7.0 7.0m0 -7.0l-7.0 7.0M599.4 830.6l7.0 7.0m0 -7.0l-7.0 7.0M598.7 816.4l7.0 7.0m0 -7.0l-7.0 7.0M598.6 852.0l7.0 7.0m0 -7.0l-7.0 7.0M599.1 857.9l7.0 7.0m0 -7.0l-7.0 7.0M598.6 831.7l7.0 7.0m0 -7.0l-7.0 7.0M677.4 886.6l7.0 7.0m0 -7.0l-7.0 7.0M664.1 886.6l7.0 7.0m0 -7.0l-7.0 7.0M605.6 887.1l7.0 7.0m0 -7.0l-7.0 7.0M638.5 884.4l7.0 7.0m0 -7.0l-7.0 7.0M661.8 887.5l7.0 7.0m0 -7.0l-7.0 7.0M666.7 882.9l7.0 7.0m0 -7.0l-7.0 7.0M643.5 887.0l7.0 7.0m0 -7.0l-7.0 7.0M617.5 887.3l7.0 7.0m0 -7.0l-7.0 7.0M694.1 887.2l7.0 7.0m0 -7.0l-7.0 7.0M645.0 886.9l7.0 7.0m0 -7.0l-7.0 7.0M669.7 887.1l7.0 7.0m0 -7.0l-7.0 7.0M651.7 887.5l7.0 7.0m0 -7.0l-7.0 7.0M606.9 886.6l7.0 7.0m0 -7.0l-7.0 7.0M622.3 887.0l7.0 7.0m0 -7.0l-7.0 7.0M605.2 886.8l7.0 7.0m0 -7.0l-7.0 7.0M617.8 886.8l7.0 7.0m0 -7.0l-7.0 7.0M618.7 885.2l7.0 7.0m0 -7.0l-7.0 7.0M639.9 886.7l7.0 7.0m0 -7.0l-7.0 7.0M630.7 887.2l7.0 7.0m0 -7.0l-7.0 7.0M634.7 887.0l7.0 7.0m0 -7.0l-7.0 7.0M679.5 886.6l7.0 7.0m0 -7.0l-7.0 7.0M601.1 886.7l7.0 7.0m0 -7.0l-7.0 7.0M609.2 886.1l7.0 7.0m0 -7.0l-7.0 7.0M678.6 887.4l7.0 7.0m0 -7.0l-7.0 7.0M651.6 885.0l7.0 7.0m0 -7.0l-7.0 7.0M642.2 885.9l7.0 7.0m0 -7.0l-7.0 7.0M625.3 886.3l7.0 7.0m0 -7.0l-7.0 7.0M652.4 885.2l7.0 7.0m0 -7.0l-7.0 7.0M620.8 887.2l7.0 7.0m0 -7.0l-7.0 7.0M683.5 886.6l7.0 7.0m0 -7.0l-7.0 7.0M680.2 886.9l7.0 7.0m0 -7.0l-7.0 7.0M630.7 887.1l7.0 7.0m0 -7.0l-7.0 7.0M601.4 887.1l7.0 7.0m0 -7.0l-7.0 7.0M686.4 886.8l7.0 7.0m0 -7.0l-7.0 7.0M628.4 887.1l7.0 7.0m0 -7.0l-7.0 7.0M663.7 886.4l7.0 7.0m0 -7.0l-7.0 7.0M683.5 886.0l7.0 7.0m0 -7.0l-7.0 7.0M677.6 885.9l7.0 7.0m0 -7.0l-7.0 7.0M684.0 886.9l7.0 7.0m0 -7.0l-7.0 7.0M647.2 884.6l7.0 7.0m0 -7.0l-7.0 7.0M682.0 885.7l7.0 7.0m0 -7.0l-7.0 7.0M644.4 886.0l7.0 7.0m0 -7.0l-7.0 7.0M625.0 887.4l7.0 7.0m0 -7.0l-7.0 7.0M646.4 885.5l7.0 7.0m0 -7.0l-7.0 7.0M632.0 886.5l7.0 7.0m0 -7.0l-7.0 7.0M674.6 887.2l7.0 7.0m0 -7.0l-7.0 7.0M680.9 887.1l7.0 7.0m0 -7.0l-7.0 7.0M612.9 887.2l7.0 7.0m0 -7.0l-7.0 7.0M615.2 887.5l7.0 7.0m0 -7.0l-7.0 7.0M636.8 883.7l7.0 7.0m0 -7.0l-7.0 7.0M644.6 886.8l7.0 7.0m0 -7.0l-7.0 7.0M693.2 883.0l7.0 7.0m0 -7.0l-7.0 7.0M611.7 884.1l7.0 7.0m0 -7.0l-7.0 7.0M662.1 883.8l7.0 7.0m0 -7.0l-7.0 7.0M681.6 883.8l7.0 7.0m0 -7.0l-7.0 7.0M602.5 883.8l7.0 7.0m0 -7.0l-7.0 7.0M618.0 880.9l7.0 7.0m0 -7.0l-7.0 7.0M625.4 881.1l7.0 7.0m0 -7.0l-7.0 7.0M666.6 928.9l7.0 7.0m0 -7.0l-7.0 7.0M623.3 928.1l7.0 7.0m0 -7.0l-7.0 7.0M668.6 928.5l7.0 7.0m0 -7.0l-7.0 7.0M671.4 927.9l7.0 7.0m0 -7.0l-7.0 7.0M670.1 928.5l7.0 7.0m0 -7.0l-7.0 7.0M605.7 928.2l7.0 7.0m0 -7.0l-7.0 7.0M692.2 929.1l7.0 7.0m0 -7.0l-7.0 7.0M655.8 929.3l7.0 7.0m0 -7.0l-7.0 7.0M625.8 928.1l7.0 7.0m0 -7.0l-7.0 7.0M641.8 927.9l7.0 7.0m0 -7.0l-7.0 7.0M650.0 928.4l7.0 7.0m0 -7.0l-7.0 7.0M650.0 928.6l7.0 7.0m0 -7.0l-7.0 7.0M623.4 929.5l7.0 7.0m0 -7.0l-7.0 7.0M625.1 928.7l7.0 7.0m0 -7.0l-7.0 7.0M634.8 928.9l7.0 7.0m0 -7.0l-7.0 7.0M675.9 928.4l7.0 7.0m0 -7.0l-7.0 7.0M642.1 928.4l7.0 7.0m0 -7.0l-7.0 7.0M602.8 930.8l7.0 7.0m0 -7.0l-7.0 7.0M643.5 929.1l7.0 7.0m0 -7.0l-7.0 7.0M618.8 928.2l7.0 7.0m0 -7.0l-7.0 7.0M600.2 928.4l7.0 7.0m0 -7.0l-7.0 7.0M695.2 928.4l7.0 7.0m0 -7.0l-7.0 7.0M627.9 928.2l7.0 7.0m0 -7.0l-7.0 7.0M651.9 929.7l7.0 7.0m0 -7.0l-7.0 7.0M634.3 928.0l7.0 7.0m0 -7.0l-7.0 7.0M604.3 928.4l7.0 7.0m0 -7.0l-7.0 7.0M687.7 928.4l7.0 7.0m0 -7.0l-7.0 7.0M691.2 930.1l7.0 7.0m0 -7.0l-7.0 7.0M617.4 928.6l7.0 7.0m0 -7.0l-7.0 7.0M640.2 928.2l7.0 7.0m0 -7.0l-7.0 7.0M635.8 929.2l7.0 7.0m0 -7.0l-7.0 7.0M615.5 930.4l7.0 7.0m0 -7.0l-7.0 7.0M664.2 928.7l7.0 7.0m0 -7.0l-7.0 7.0M676.0 928.7l7.0 7.0m0 -7.0l-7.0 7.0M673.8 928.1l7.0 7.0m0 -7.0l-7.0 7.0M665.5 928.6l7.0 7.0m0 -7.0l-7.0 7.0M600.7 929.3l7.0 7.0m0 -7.0l-7.0 7.0M621.6 928.0l7.0 7.0m0 -7.0l-7.0 7.0M649.7 928.9l7.0 7.0m0 -7.0l-7.0 7.0M668.2 928.7l7.0 7.0m0 -7.0l-7.0 7.0M637.1 930.0l7.0 7.0m0 -7.0l-7.0 7.0M643.3 928.5l7.0 7.0m0 -7.0l-7.0 7.0M681.8 929.3l7.0 7.0m0 -7.0l-7.0 7.0M601.3 928.1l7.0 7.0m0 -7.0l-7.0 7.0M625.5 928.6l7.0 7.0m0 -7.0l-7.0 7.0M627.6 928.0l7.0 7.0m0 -7.0l-7.0 7.0M696.8 928.0l7.0 7.0m0 -7.0l-7.0 7.0M621.4 929.0l7.0 7.0m0 -7.0l-7.0 7.0M603.6 933.2l7.0 7.0m0 -7.0l-7.0 7.0M640.0 928.7l7.0 7.0m0 -7.0l-7.0 7.0M663.0 928.9l7.0 7.0m0 -7.0l-7.0 7.0M614.1 928.3l7.0 7.0m0 -7.0l-7.0 7.0M602.1 932.2l7.0 7.0m0 -7.0l-7.0 7.0M643.5 931.0l7.0 7.0m0 -7.0l-7.0 7.0M605.2 934.5l7.0 7.0m0 -7.0l-7.0 7.0M693.6 931.3l7.0 7.0m0 -7.0l-7.0 7.0M599.8 932.3l7.0 7.0m0 -7.0l-7.0 7.0M631.1 931.4l7.0 7.0m0 -7.0l-7.0 7.0M598.9 922.0l7.0 7.0m0 -7.0l-7.0 7.0M599.3 900.4l7.0 7.0m0 -7.0l-7.0 7.0M599.3 925.7l7.0 7.0m0 -7.0l-7.0 7.0M599.1 901.5l7.0 7.0m0 -7.0l-7.0 7.0M599.4 926.3l7.0 7.0m0 -7.0l-7.0 7.0M598.8 890.3l7.0 7.0m0 -7.0l-7.0 7.0M599.4 914.6l7.0 7.0m0 -7.0l-7.0 7.0M598.7 910.5l7.0 7.0m0 -7.0l-7.0 7.0M697.3 925.3l7.0 7.0m0 -7.0l-7.0 7.0M697.3 894.9l7.0 7.0m0 -7.0l-7.0 7.0M697.0 901.1l7.0 7.0m0 -7.0l-7.0 7.0M698.0 895.9l7.0 7.0m0 -7.0l-7.0 7.0M697.5 927.5l7.0 7.0m0 -7.0l-7.0 7.0M697.0 899.1l7.0 7.0m0 -7.0l-7.0 7.0M697.8 890.7l7.0 7.0m0 -7.0l-7.0 7.0M697.9 921.8l7.0 7.0m0 -7.0l-7.0 7.0M702.0 816.6l7.0 7.0m0 -7.0l-7.0 7.0M716.0 816.6l7.0 7.0m0 -7.0l-7.0 7.0M714.9 817.1l7.0 7.0m0 -7.0l-7.0 7.0M719.2 812.0l7.0 7.0m0 -7.0l-7.0 7.0M707.1 816.7l7.0 7.0m0 -7.0l-7.0 7.0M709.5 815.0l7.0 7.0m0 -7.0l-7.0 7.0M705.0 816.7l7.0 7.0m0 -7.0l-7.0 7.0M706.6 813.9l7.0 7.0m0 -7.0l-7.0 7.0M703.0 814.7l7.0 7.0m0 -7.0l-7.0 7.0M725.8 813.2l7.0 7.0m0 -7.0l-7.0 7.0M725.3 816.6l7.0 7.0m0 -7.0l-7.0 7.0M708.8 817.2l7.0 7.0m0 -7.0l-7.0 7.0M719.2 816.7l7.0 7.0m0 -7.0l-7.0 7.0M712.8 817.1l7.0 7.0m0 -7.0l-7.0 7.0M706.3 817.4l7.0 7.0m0 -7.0l-7.0 7.0M708.4 816.1l7.0 7.0m0 -7.0l-7.0 7.0M727.7 816.9l7.0 7.0m0 -7.0l-7.0 7.0M708.2 817.0l7.0 7.0m0 -7.0l-7.0 7.0M698.0 810.9l7.0 7.0m0 -7.0l-7.0 7.0M705.2 857.6l7.0 7.0m0 -7.0l-7.0 7.0M706.6 859.3l7.0 7.0m0 -7.0l-7.0 7.0M723.6 857.3l7.0 7.0m0 -7.0l-7.0 7.0M725.5 857.1l7.0 7.0m0 -7.0l-7.0 7.0M720.6 858.7l7.0 7.0m0 -7.0l-7.0 7.0M707.9 858.8l7.0 7.0m0 -7.0l-7.0 7.0M712.0 857.2l7.0 7.0m0 -7.0l-7.0 7.0M723.6 858.6l7.0 7.0m0 -7.0l-7.0 7.0M708.7 858.6l7.0 7.0m0 -7.0l-7.0 7.0M722.7 857.9l7.0 7.0m0 -7.0l-7.0 7.0M722.0 860.8l7.0 7.0m0 -7.0l-7.0 7.0M712.2 858.0l7.0 7.0m0 -7.0l-7.0 7.0M725.6 857.2l7.0 7.0m0 -7.0l-7.0 7.0M709.5 858.0l7.0 7.0m0 -7.0l-7.0 7.0M721.0 858.4l7.0 7.0m0 -7.0l-7.0 7.0M717.5 860.7l7.0 7.0m0 -7.0l-7.0 7.0M707.9 857.8l7.0 7.0m0 -7.0l-7.0 7.0M714.1 857.9l7.0 7.0m0 -7.0l-7.0 7.0M724.8 860.6l7.0 7.0m0 -7.0l-7.0 7.0M697.4 830.5l7.0 7.0m0 -7.0l-7.0 7.0M697.0 826.2l7.0 7.0m0 -7.0l-7.0 7.0M697.3 821.2l7.0 7.0m0 -7.0l-7.0 7.0M697.8 834.3l7.0 7.0m0 -7.0l-7.0 7.0M697.6 828.4l7.0 7.0m0 -7.0l-7.0 7.0M697.4 847.7l7.0 7.0m0 -7.0l-7.0 7.0M697.5 841.3l7.0 7.0m0 -7.0l-7.0 7.0M697.4 839.6l7.0 7.0m0 -7.0l-7.0 7.0M729.2 827.7l7.0 7.0m0 -7.0l-7.0 7.0M728.8 845.0l7.0 7.0m0 -7.0l-7.0 7.0M728.4 856.3l7.0 7.0m0 -7.0l-7.0 7.0M728.8 826.8l7.0 7.0m0 -7.0l-7.0 7.0M729.1 850.3l7.0 7.0m0 -7.0l-7.0 7.0M728.9 854.4l7.0 7.0m0 -7.0l-7.0 7.0M728.4 838.4l7.0 7.0m0 -7.0l-7.0 7.0M729.0 854.5l7.0 7.0m0 -7.0l-7.0 7.0M782.4 884.5l7.0 7.0m0 -7.0l-7.0 7.0M779.2 887.4l7.0 7.0m0 -7.0l-7.0 7.0M761.3 886.3l7.0 7.0m0 -7.0l-7.0 7.0M776.6 886.6l7.0 7.0m0 -7.0l-7.0 7.0M775.2 886.4l7.0 7.0m0 -7.0l-7.0 7.0M804.5 884.3l7.0 7.0m0 -7.0l-7.0 7.0M797.9 886.1l7.0 7.0m0 -7.0l-7.0 7.0M790.4 887.3l7.0 7.0m0 -7.0l-7.0 7.0M806.0 886.2l7.0 7.0m0 -7.0l-7.0 7.0M734.3 886.8l7.0 7.0m0 -7.0l-7.0 7.0M793.1 886.2l7.0 7.0m0 -7.0l-7.0 7.0M767.6 887.4l7.0 7.0m0 -7.0l-7.0 7.0M791.7 887.4l7.0 7.0m0 -7.0l-7.0 7.0M753.6 887.2l7.0 7.0m0 -7.0l-7.0 7.0M767.9 887.4l7.0 7.0m0 -7.0l-7.0 7.0M797.7 885.7l7.0 7.0m0 -7.0l-7.0 7.0M731.7 886.8l7.0 7.0m0 -7.0l-7.0 7.0M753.1 883.9l7.0 7.0m0 -7.0l-7.0 7.0M769.6 885.7l7.0 7.0m0 -7.0l-7.0 7.0M800.0 886.3l7.0 7.0m0 -7.0l-7.0 7.0M751.4 884.2l7.0 7.0m0 -7.0l-7.0 7.0M797.6 884.8l7.0 7.0m0 -7.0l-7.0 7.0M749.2 886.3l7.0 7.0m0 -7.0l-7.0 7.0M754.1 886.2l7.0 7.0m0 -7.0l-7.0 7.0M775.1 885.1l7.0 7.0m0 -7.0l-7.0 7.0M783.5 886.7l7.0 7.0m0 -7.0l-7.0 7.0M802.4 883.7l7.0 7.0m0 -7.0l-7.0 7.0M802.3 883.1l7.0 7.0m0 -7.0l-7.0 7.0M749.7 886.0l7.0 7.0m0 -7.0l-7.0 7.0M791.1 883.5l7.0 7.0m0 -7.0l-7.0 7.0M781.9 887.4l7.0 7.0m0 -7.0l-7.0 7.0M761.1 885.2l7.0 7.0m0 -7.0l-7.0 7.0M793.7 887.4l7.0 7.0m0 -7.0l-7.0 7.0M803.8 886.4l7.0 7.0m0 -7.0l-7.0 7.0M768.9 887.4l7.0 7.0m0 -7.0l-7.0 7.0M805.4 886.9l7.0 7.0m0 -7.0l-7.0 7.0M739.5 886.0l7.0 7.0m0 -7.0l-7.0 7.0M742.7 887.4l7.0 7.0m0 -7.0l-7.0 7.0M792.7 886.2l7.0 7.0m0 -7.0l-7.0 7.0M754.3 885.7l7.0 7.0m0 -7.0l-7.0 7.0M777.7 886.0l7.0 7.0m0 -7.0l-7.0 7.0M770.4 884.7l7.0 7.0m0 -7.0l-7.0 7.0M741.0 887.1l7.0 7.0m0 -7.0l-7.0 7.0M791.9 887.0l7.0 7.0m0 -7.0l-7.0 7.0M800.1 883.3l7.0 7.0m0 -7.0l-7.0 7.0M739.0 882.8l7.0 7.0m0 -7.0l-7.0 7.0M734.2 883.8l7.0 7.0m0 -7.0l-7.0 7.0M748.2 882.3l7.0 7.0m0 -7.0l-7.0 7.0M770.0 883.4l7.0 7.0m0 -7.0l-7.0 7.0M781.2 929.0l7.0 7.0m0 -7.0l-7.0 7.0M756.9 927.9l7.0 7.0m0 -7.0l-7.0 7.0M736.6 928.1l7.0 7.0m0 -7.0l-7.0 7.0M745.6 930.6l7.0 7.0m0 -7.0l-7.0 7.0M794.2 929.6l7.0 7.0m0 -7.0l-7.0 7.0M781.8 928.5l7.0 7.0m0 -7.0l-7.0 7.0M795.4 930.5l7.0 7.0m0 -7.0l-7.0 7.0M732.5 929.0l7.0 7.0m0 -7.0l-7.0 7.0M804.1 929.7l7.0 7.0m0 -7.0l-7.0 7.0M760.8 928.0l7.0 7.0m0 -7.0l-7.0 7.0M806.2 930.4l7.0 7.0m0 -7.0l-7.0 7.0M778.5 928.2l7.0 7.0m0 -7.0l-7.0 7.0M774.6 928.4l7.0 7.0m0 -7.0l-7.0 7.0M797.2 929.2l7.0 7.0m0 -7.0l-7.0 7.0M781.1 928.5l7.0 7.0m0 -7.0l-7.0 7.0M785.2 928.8l7.0 7.0m0 -7.0l-7.0 7.0M742.0 929.2l7.0 7.0m0 -7.0l-7.0 7.0M779.3 930.0l7.0 7.0m0 -7.0l-7.0 7.0M758.6 928.4l7.0 7.0m0 -7.0l-7.0 7.0M735.1 929.2l7.0 7.0m0 -7.0l-7.0 7.0M739.9 928.2l7.0 7.0m0 -7.0l-7.0 7.0M768.9 929.0l7.0 7.0m0 -7.0l-7.0 7.0M750.7 928.3l7.0 7.0m0 -7.0l-7.0 7.0M792.8 928.3l7.0 7.0m0 -7.0l-7.0 7.0M739.0 928.3l7.0 7.0m0 -7.0l-7.0 7.0M730.0 928.0l7.0 7.0m0 -7.0l-7.0 7.0M812.1 928.4l7.0 7.0m0 -7.0l-7.0 7.0M755.0 928.4l7.0 7.0m0 -7.0l-7.0 7.0M771.4 928.2l7.0 7.0m0 -7.0l-7.0 7.0M746.4 929.0l7.0 7.0m0 -7.0l-7.0 7.0M746.3 928.4l7.0 7.0m0 -7.0l-7.0 7.0M762.4 928.8l7.0 7.0m0 -7.0l-7.0 7.0M794.8 927.9l7.0 7.0m0 -7.0l-7.0 7.0M732.1 930.7l7.0 7.0m0 -7.0l-7.0 7.0M798.8 932.2l7.0 7.0m0 -7.0l-7.0 7.0M811.6 929.4l7.0 7.0m0 -7.0l-7.0 7.0M775.5 930.8l7.0 7.0m0 -7.0l-7.0 7.0M758.9 928.3l7.0 7.0m0 -7.0l-7.0 7.0M748.4 928.3l7.0 7.0m0 -7.0l-7.0 7.0M744.1 930.2l7.0 7.0m0 -7.0l-7.0 7.0M755.8 932.3l7.0 7.0m0 -7.0l-7.0 7.0M800.0 928.2l7.0 7.0m0 -7.0l-7.0 7.0M729.1 928.3l7.0 7.0m0 -7.0l-7.0 7.0M794.5 927.9l7.0 7.0m0 -7.0l-7.0 7.0M799.4 931.0l7.0 7.0m0 -7.0l-7.0 7.0M793.9 933.4l7.0 7.0m0 -7.0l-7.0 7.0M732.6 931.4l7.0 7.0m0 -7.0l-7.0 7.0M791.1 932.5l7.0 7.0m0 -7.0l-7.0 7.0M786.6 932.3l7.0 7.0m0 -7.0l-7.0 7.0M728.9 907.8l7.0 7.0m0 -7.0l-7.0 7.0M728.4 891.8l7.0 7.0m0 -7.0l-7.0 7.0M729.2 917.9l7.0 7.0m0 -7.0l-7.0 7.0M729.1 911.0l7.0 7.0m0 -7.0l-7.0 7.0M728.9 909.0l7.0 7.0m0 -7.0l-7.0 7.0M729.0 900.6l7.0 7.0m0 -7.0l-7.0 7.0M728.8 906.4l7.0 7.0m0 -7.0l-7.0 7.0M729.0 895.8l7.0 7.0m0 -7.0l-7.0 7.0M811.9 890.4l7.0 7.0m0 -7.0l-7.0 7.0M812.1 922.7l7.0 7.0m0 -7.0l-7.0 7.0M812.6 918.2l7.0 7.0m0 -7.0l-7.0 7.0M812.3 891.0l7.0 7.0m0 -7.0l-7.0 7.0M812.4 922.9l7.0 7.0m0 -7.0l-7.0 7.0M812.4 913.2l7.0 7.0m0 -7.0l-7.0 7.0M812.3 893.0l7.0 7.0m0 -7.0l-7.0 7.0M812.5 907.1l7.0 7.0m0 -7.0l-7.0 7.0M818.2 816.8l7.0 7.0m0 -7.0l-7.0 7.0M816.7 816.2l7.0 7.0m0 -7.0l-7.0 7.0M824.0 814.5l7.0 7.0m0 -7.0l-7.0 7.0M817.7 816.5l7.0 7.0m0 -7.0l-7.0 7.0M822.0 815.9l7.0 7.0m0 -7.0l-7.0 7.0M816.7 813.0l7.0 7.0m0 -7.0l-7.0 7.0M825.0 815.0l7.0 7.0m0 -7.0l-7.0 7.0M818.7 816.5l7.0 7.0m0 -7.0l-7.0 7.0M820.4 816.4l7.0 7.0m0 -7.0l-7.0 7.0M827.9 815.0l7.0 7.0m0 -7.0l-7.0 7.0M824.4 817.1l7.0 7.0m0 -7.0l-7.0 7.0M828.9 811.6l7.0 7.0m0 -7.0l-7.0 7.0M814.8 857.3l7.0 7.0m0 -7.0l-7.0 7.0M816.5 857.2l7.0 7.0m0 -7.0l-7.0 7.0M822.0 858.6l7.0 7.0m0 -7.0l-7.0 7.0M825.1 859.2l7.0 7.0m0 -7.0l-7.0 7.0M814.9 858.3l7.0 7.0m0 -7.0l-7.0 7.0M828.4 857.1l7.0 7.0m0 -7.0l-7.0 7.0M818.2 861.0l7.0 7.0m0 -7.0l-7.0 7.0M829.0 858.0l7.0 7.0m0 -7.0l-7.0 7.0M825.0 859.5l7.0 7.0m0 -7.0l-7.0 7.0M820.5 864.2l7.0 7.0m0 -7.0l-7.0 7.0M818.5 857.2l7.0 7.0m0 -7.0l-7.0 7.0M826.8 863.2l7.0 7.0m0 -7.0l-7.0 7.0M812.6 851.3l7.0 7.0m0 -7.0l-7.0 7.0M812.4 837.6l7.0 7.0m0 -7.0l-7.0 7.0M812.3 852.3l7.0 7.0m0 -7.0l-7.0 7.0M812.8 823.3l7.0 7.0m0 -7.0l-7.0 7.0M812.7 828.1l7.0 7.0m0 -7.0l-7.0 7.0M812.1 824.8l7.0 7.0m0 -7.0l-7.0 7.0M812.5 828.2l7.0 7.0m0 -7.0l-7.0 7.0M812.1 820.8l7.0 7.0m0 -7.0l-7.0 7.0M828.9 848.6l7.0 7.0m0 -7.0l-7.0 7.0M828.6 836.6l7.0 7.0m0 -7.0l-7.0 7.0M829.2 818.7l7.0 7.0m0 -7.0l-7.0 7.0M828.9 854.0l7.0 7.0m0 -7.0l-7.0 7.0M829.6 851.7l7.0 7.0m0 -7.0l-7.0 7.0M828.8 848.2l7.0 7.0m0 -7.0l-7.0 7.0M829.1 823.7l7.0 7.0m0 -7.0l-7.0 7.0M829.1 854.7l7.0 7.0m0 -7.0l-7.0 7.0M873.8 886.9l7.0 7.0m0 -7.0l-7.0 7.0M849.0 887.1l7.0 7.0m0 -7.0l-7.0 7.0M832.3 886.5l7.0 7.0m0 -7.0l-7.0 7.0M874.9 884.7l7.0 7.0m0 -7.0l-7.0 7.0M879.3 886.9l7.0 7.0m0 -7.0l-7.0 7.0M855.1 882.8l7.0 7.0m0 -7.0l-7.0 7.0M840.6 887.2l7.0 7.0m0 -7.0l-7.0 7.0M856.8 886.1l7.0 7.0m0 -7.0l-7.0 7.0M864.5 887.4l7.0 7.0m0 -7.0l-7.0 7.0M853.6 886.8l7.0 7.0m0 -7.0l-7.0 7.0M847.0 887.4l7.0 7.0m0 -7.0l-7.0 7.0M841.7 887.0l7.0 7.0m0 -7.0l-7.0 7.0M844.2 887.2l7.0 7.0m0 -7.0l-7.0 7.0M831.6 887.3l7.0 7.0m0 -7.0l-7.0 7.0M842.1 886.6l7.0 7.0m0 -7.0l-7.0 7.0M877.6 886.9l7.0 7.0m0 -7.0l-7.0 7.0M829.5 884.7l7.0 7.0m0 -7.0l-7.0 7.0M866.1 887.3l7.0 7.0m0 -7.0l-7.0 7.0M869.3 886.7l7.0 7.0m0 -7.0l-7.0 7.0M849.7 885.4l7.0 7.0m0 -7.0l-7.0 7.0M859.4 887.1l7.0 7.0m0 -7.0l-7.0 7.0M840.3 885.9l7.0 7.0m0 -7.0l-7.0 7.0M863.1 882.3l7.0 7.0m0 -7.0l-7.0 7.0M865.1 886.2l7.0 7.0m0 -7.0l-7.0 7.0M866.5 885.6l7.0 7.0m0 -7.0l-7.0 7.0M854.1 885.8l7.0 7.0m0 -7.0l-7.0 7.0M878.5 886.4l7.0 7.0m0 -7.0l-7.0 7.0M873.2 887.4l7.0 7.0m0 -7.0l-7.0 7.0M833.4 882.6l7.0 7.0m0 -7.0l-7.0 7.0M868.4 884.4l7.0 7.0m0 -7.0l-7.0 7.0M860.2 883.7l7.0 7.0m0 -7.0l-7.0 7.0M833.7 928.6l7.0 7.0m0 -7.0l-7.0 7.0M867.2 928.0l7.0 7.0m0 -7.0l-7.0 7.0M846.4 928.2l7.0 7.0m0 -7.0l-7.0 7.0M870.2 930.4l7.0 7.0m0 -7.0l-7.0 7.0M834.0 930.4l7.0 7.0m0 -7.0l-7.0 7.0M854.2 928.7l7.0 7.0m0 -7.0l-7.0 7.0M834.2 929.2l7.0 7.0m0 -7.0l-7.0 7.0M868.8 928.7l7.0 7.0m0 -7.0l-7.0 7.0M857.6 928.8l7.0 7.0m0 -7.0l-7.0 7.0M841.0 928.2l7.0 7.0m0 -7.0l-7.0 7.0M878.1 928.7l7.0 7.0m0 -7.0l-7.0 7.0M863.8 927.9l7.0 7.0m0 -7.0l-7.0 7.0M846.2 927.9l7.0 7.0m0 -7.0l-7.0 7.0M872.6 929.3l7.0 7.0m0 -7.0l-7.0 7.0M848.4 928.9l7.0 7.0m0 -7.0l-7.0 7.0M877.1 929.0l7.0 7.0m0 -7.0l-7.0 7.0M844.2 928.2l7.0 7.0m0 -7.0l-7.0 7.0M879.2 928.7l7.0 7.0m0 -7.0l-7.0 7.0M832.3 928.9l7.0 7.0m0 -7.0l-7.0 7.0M866.5 928.2l7.0 7.0m0 -7.0l-7.0 7.0M843.9 929.9l7.0 7.0m0 -7.0l-7.0 7.0M850.7 931.1l7.0 7.0m0 -7.0l-7.0 7.0M861.5 928.5l7.0 7.0m0 -7.0l-7.0 7.0M831.4 928.8l7.0 7.0m0 -7.0l-7.0 7.0M840.5 928.8l7.0 7.0m0 -7.0l-7.0 7.0M834.4 928.4l7.0 7.0m0 -7.0l-7.0 7.0M866.7 928.7l7.0 7.0m0 -7.0l-7.0 7.0M840.4 928.2l7.0 7.0m0 -7.0l-7.0 7.0M860.5 932.6l7.0 7.0m0 -7.0l-7.0 7.0M832.5 931.6l7.0 7.0m0 -7.0l-7.0 7.0M829.8 934.3l7.0 7.0m0 -7.0l-7.0 7.0M829.4 921.8l7.0 7.0m0 -7.0l-7.0 7.0M829.2 922.3l7.0 7.0m0 -7.0l-7.0 7.0M829.3 925.6l7.0 7.0m0 -7.0l-7.0 7.0M829.5 888.5l7.0 7.0m0 -7.0l-7.0 7.0M828.9 903.0l7.0 7.0m0 -7.0l-7.0 7.0M828.9 894.1l7.0 7.0m0 -7.0l-7.0 7.0M829.5 887.8l7.0 7.0m0 -7.0l-7.0 7.0M828.8 918.6l7.0 7.0m0 -7.0l-7.0 7.0M879.7 897.6l7.0 7.0m0 -7.0l-7.0 7.0M880.5 918.7l7.0 7.0m0 -7.0l-7.0 7.0M879.9 892.4l7.0 7.0m0 -7.0l-7.0 7.0M879.8 927.9l7.0 7.0m0 -7.0l-7.0 7.0M880.3 889.6l7.0 7.0m0 -7.0l-7.0 7.0M880.2 902.5l7.0 7.0m0 -7.0l-7.0 7.0M880.2 899.1l7.0 7.0m0 -7.0l-7.0 7.0M879.6 887.5l7.0 7.0m0 -7.0l-7.0 7.0M893.9 816.5l7.0 7.0m0 -7.0l-7.0 7.0M920.5 815.9l7.0 7.0m0 -7.0l-7.0 7.0M922.0 816.8l7.0 7.0m0 -7.0l-7.0 7.0M912.2 816.2l7.0 7.0m0 -7.0l-7.0 7.0M915.2 812.3l7.0 7.0m0 -7.0l-7.0 7.0M889.2 816.1l7.0 7.0m0 -7.0l-7.0 7.0M896.7 815.4l7.0 7.0m0 -7.0l-7.0 7.0M922.4 814.5l7.0 7.0m0 -7.0l-7.0 7.0M926.5 816.6l7.0 7.0m0 -7.0l-7.0 7.0M900.9 816.0l7.0 7.0m0 -7.0l-7.0 7.0M916.5 816.6l7.0 7.0m0 -7.0l-7.0 7.0M924.0 816.1l7.0 7.0m0 -7.0l-7.0 7.0M927.0 815.6l7.0 7.0m0 -7.0l-7.0 7.0M893.9 816.9l7.0 7.0m0 -7.0l-7.0 7.0M910.8 816.2l7.0 7.0m0 -7.0l-7.0 7.0M898.4 815.7l7.0 7.0m0 -7.0l-7.0 7.0M901.9 812.5l7.0 7.0m0 -7.0l-7.0 7.0M901.8 816.8l7.0 7.0m0 -7.0l-7.0 7.0M893.1 815.1l7.0 7.0m0 -7.0l-7.0 7.0M880.9 816.6l7.0 7.0m0 -7.0l-7.0 7.0M916.1 816.8l7.0 7.0m0 -7.0l-7.0 7.0M912.8 816.4l7.0 7.0m0 -7.0l-7.0 7.0M919.6 815.9l7.0 7.0m0 -7.0l-7.0 7.0M887.2 817.0l7.0 7.0m0 -7.0l-7.0 7.0M891.2 816.8l7.0 7.0m0 -7.0l-7.0 7.0M908.1 817.0l7.0 7.0m0 -7.0l-7.0 7.0M904.3 812.3l7.0 7.0m0 -7.0l-7.0 7.0M884.7 813.1l7.0 7.0m0 -7.0l-7.0 7.0M900.9 858.8l7.0 7.0m0 -7.0l-7.0 7.0M910.2 860.9l7.0 7.0m0 -7.0l-7.0 7.0M886.5 857.7l7.0 7.0m0 -7.0l-7.0 7.0M899.3 858.6l7.0 7.0m0 -7.0l-7.0 7.0M906.5 858.1l7.0 7.0m0 -7.0l-7.0 7.0M905.9 857.8l7.0 7.0m0 -7.0l-7.0 7.0M922.0 858.0l7.0 7.0m0 -7.0l-7.0 7.0M917.0 859.9l7.0 7.0m0 -7.0l-7.0 7.0M885.7 857.8l7.0 7.0m0 -7.0l-7.0 7.0M919.2 858.7l7.0 7.0m0 -7.0l-7.0 7.0M905.9 858.7l7.0 7.0m0 -7.0l-7.0 7.0M911.9 858.0l7.0 7.0m0 -7.0l-7.0 7.0M887.5 857.6l7.0 7.0m0 -7.0l-7.0 7.0M902.2 858.5l7.0 7.0m0 -7.0l-7.0 7.0M913.0 858.6l7.0 7.0m0 -7.0l-7.0 7.0M917.6 857.7l7.0 7.0m0 -7.0l-7.0 7.0M918.0 858.5l7.0 7.0m0 -7.0l-7.0 7.0M890.2 858.3l7.0 7.0m0 -7.0l-7.0 7.0M919.2 858.2l7.0 7.0m0 -7.0l-7.0 7.0M906.8 862.1l7.0 7.0m0 -7.0l-7.0 7.0M911.5 860.5l7.0 7.0m0 -7.0l-7.0 7.0M920.1 865.0l7.0 7.0m0 -7.0l-7.0 7.0M899.1 857.6l7.0 7.0m0 -7.0l-7.0 7.0M923.3 857.6l7.0 7.0m0 -7.0l-7.0 7.0M921.5 858.3l7.0 7.0m0 -7.0l-7.0 7.0M918.0 865.3l7.0 7.0m0 -7.0l-7.0 7.0M923.4 863.1l7.0 7.0m0 -7.0l-7.0 7.0M913.3 861.7l7.0 7.0m0 -7.0l-7.0 7.0M879.9 836.9l7.0 7.0m0 -7.0l-7.0 7.0M879.7 834.3l7.0 7.0m0 -7.0l-7.0 7.0M880.0 817.6l7.0 7.0m0 -7.0l-7.0 7.0M879.9 828.2l7.0 7.0m0 -7.0l-7.0 7.0M880.1 850.4l7.0 7.0m0 -7.0l-7.0 7.0M880.1 844.2l7.0 7.0m0 -7.0l-7.0 7.0M880.1 827.1l7.0 7.0m0 -7.0l-7.0 7.0M879.9 851.8l7.0 7.0m0 -7.0l-7.0 7.0M927.5 823.9l7.0 7.0m0 -7.0l-7.0 7.0M926.6 856.7l7.0 7.0m0 -7.0l-7.0 7.0M927.5 841.8l7.0 7.0m0 -7.0l-7.0 7.0M927.4 841.3l7.0 7.0m0 -7.0l-7.0 7.0M927.5 826.5l7.0 7.0m0 -7.0l-7.0 7.0M927.0 844.5l7.0 7.0m0 -7.0l-7.0 7.0M926.8 846.3l7.0 7.0m0 -7.0l-7.0 7.0M926.9 846.1l7.0 7.0m0 -7.0l-7.0 7.0M207.5 808.3l7.0 7.0m0 -7.0l-7.0 7.0M239.2 809.4l7.0 7.0m0 -7.0l-7.0 7.0M263.9 809.4l7.0 7.0m0 -7.0l-7.0 7.0M204.0 863.5l7.0 7.0m0 -7.0l-7.0 7.0M228.2 863.5l7.0 7.0m0 -7.0l-7.0 7.0M258.0 865.1l7.0 7.0m0 -7.0l-7.0 7.0M179.3 861.1l7.0 7.0m0 -7.0l-7.0 7.0M349.4 808.3l7.0 7.0m0 -7.0l-7.0 7.0M367.0 808.3l7.0 7.0m0 -7.0l-7.0 7.0M371.7 865.8l7.0 7.0m0 -7.0l-7.0 7.0M349.4 862.3l7.0 7.0m0 -7.0l-7.0 7.0M391.7 862.3l7.0 7.0m0 -7.0l-7.0 7.0M417.5 808.3l7.0 7.0m0 -7.0l-7.0 7.0M450.4 807.1l7.0 7.0m0 -7.0l-7.0 7.0M471.6 807.1l7.0 7.0m0 -7.0l-7.0 7.0M429.3 809.4l7.0 7.0m0 -7.0l-7.0 7.0M417.5 862.3l7.0 7.0m0 -7.0l-7.0 7.0M529.1 808.8l7.0 7.0m0 -7.0l-7.0 7.0M535.5 809.3l7.0 7.0m0 -7.0l-7.0 7.0M568.8 807.3l7.0 7.0m0 -7.0l-7.0 7.0M576.5 808.0l7.0 7.0m0 -7.0l-7.0 7.0M598.3 808.0l7.0 7.0m0 -7.0l-7.0 7.0M495.7 863.7l7.0 7.0m0 -7.0l-7.0 7.0M523.9 863.7l7.0 7.0m0 -7.0l-7.0 7.0M536.8 862.7l7.0 7.0m0 -7.0l-7.0 7.0M567.5 865.2l7.0 7.0m0 -7.0l-7.0 7.0M727.2 809.4l7.0 7.0m0 -7.0l-7.0 7.0M719.4 810.4l7.0 7.0m0 -7.0l-7.0 7.0M727.2 865.6l7.0 7.0m0 -7.0l-7.0 7.0M697.0 861.1l7.0 7.0m0 -7.0l-7.0 7.0M720.7 861.1l7.0 7.0m0 -7.0l-7.0 7.0M828.4 802.5l7.0 7.0m0 -7.0l-7.0 7.0M820.5 811.2l7.0 7.0m0 -7.0l-7.0 7.0M817.9 860.4l7.0 7.0m0 -7.0l-7.0 7.0M894.1 809.4l7.0 7.0m0 -7.0l-7.0 7.0M920.4 810.4l7.0 7.0m0 -7.0l-7.0 7.0M106.1 879.3l7.0 7.0m0 -7.0l-7.0 7.0M149.7 880.6l7.0 7.0m0 -7.0l-7.0 7.0M175.3 881.4l7.0 7.0m0 -7.0l-7.0 7.0M77.9 935.2l7.0 7.0m0 -7.0l-7.0 7.0M109.9 935.2l7.0 7.0m0 -7.0l-7.0 7.0M153.5 935.2l7.0 7.0m0 -7.0l-7.0 7.0M312.2 879.3l7.0 7.0m0 -7.0l-7.0 7.0M322.5 879.3l7.0 7.0m0 -7.0l-7.0 7.0M322.5 934.5l7.0 7.0m0 -7.0l-7.0 7.0M308.4 934.5l7.0 7.0m0 -7.0l-7.0 7.0M400.7 881.9l7.0 7.0m0 -7.0l-7.0 7.0M400.7 934.5l7.0 7.0m0 -7.0l-7.0 7.0M477.5 883.2l7.0 7.0m0 -7.0l-7.0 7.0M604.5 879.3l7.0 7.0m0 -7.0l-7.0 7.0M657.0 878.0l7.0 7.0m0 -7.0l-7.0 7.0M681.4 877.3l7.0 7.0m0 -7.0l-7.0 7.0M687.8 878.0l7.0 7.0m0 -7.0l-7.0 7.0M695.5 879.3l7.0 7.0m0 -7.0l-7.0 7.0M609.5 933.7l7.0 7.0m0 -7.0l-7.0 7.0M658.3 933.7l7.0 7.0m0 -7.0l-7.0 7.0M794.2 879.3l7.0 7.0m0 -7.0l-7.0 7.0M787.8 880.6l7.0 7.0m0 -7.0l-7.0 7.0M746.8 934.5l7.0 7.0m0 -7.0l-7.0 7.0M760.9 934.5l7.0 7.0m0 -7.0l-7.0 7.0M859.9 878.0l7.0 7.0m0 -7.0l-7.0 7.0M864.4 878.7l7.0 7.0m0 -7.0l-7.0 7.0M879.8 881.9l7.0 7.0m0 -7.0l-7.0 7.0M833.0 933.2l7.0 7.0m0 -7.0l-7.0 7.0M844.5 933.8l7.0 7.0m0 -7.0l-7.0 7.0" stroke="#ff0000" stroke-width="1.5" fill="none"/>
<path d="M76.5 840.10H930.0M76.5 911.40H930.0" stroke="#000" stroke-width="2.7" stroke-dasharray="6.4 5.44"/>
<g font-size="30.5"><text x="63.62" y="1020.00" font-size="30.5">0</text><text x="234.42" y="1020.00" font-size="30.5">2</text><text x="405.22" y="1020.00" font-size="30.5">4</text><text x="576.02" y="1020.00" font-size="30.5">6</text><text x="746.82" y="1020.00" font-size="30.5">8</text><path d="M776.4 1006.1L790.2 1019.7M790.2 1006.1L776.4 1019.7" stroke="#000" stroke-width="1.6" stroke-linecap="round"/><path d="M0.245 0H0.34V-0.705H0.285C0.26 -0.64 0.2 -0.585 0.089 -0.574V-0.505C0.15 -0.508 0.21 -0.52 0.245 -0.545Z" transform="translate(800.50 1020.00) scale(30.5)"/><text x="817.46" y="1020.00" font-size="30.5">0</text><text x="834.50" y="1005.30" font-size="22">4</text><text x="56.54" y="773.50" font-size="30.5">5</text><text x="56.54" y="886.75" font-size="30.5">0</text><text x="56.54" y="1000.00" font-size="30.5">5</text><rect x="40.5" y="992.05" width="15.4" height="1.9"/></g>
<text x="503.2" y="1049" font-size="34.7" text-anchor="middle">Time</text>
<text transform="translate(25.1 992.2) rotate(-90)" font-size="34.2">Polarity angle <tspan font-family="Liberation Serif" font-size="34.5">θ</tspan></text>
</svg>
</body></html>
